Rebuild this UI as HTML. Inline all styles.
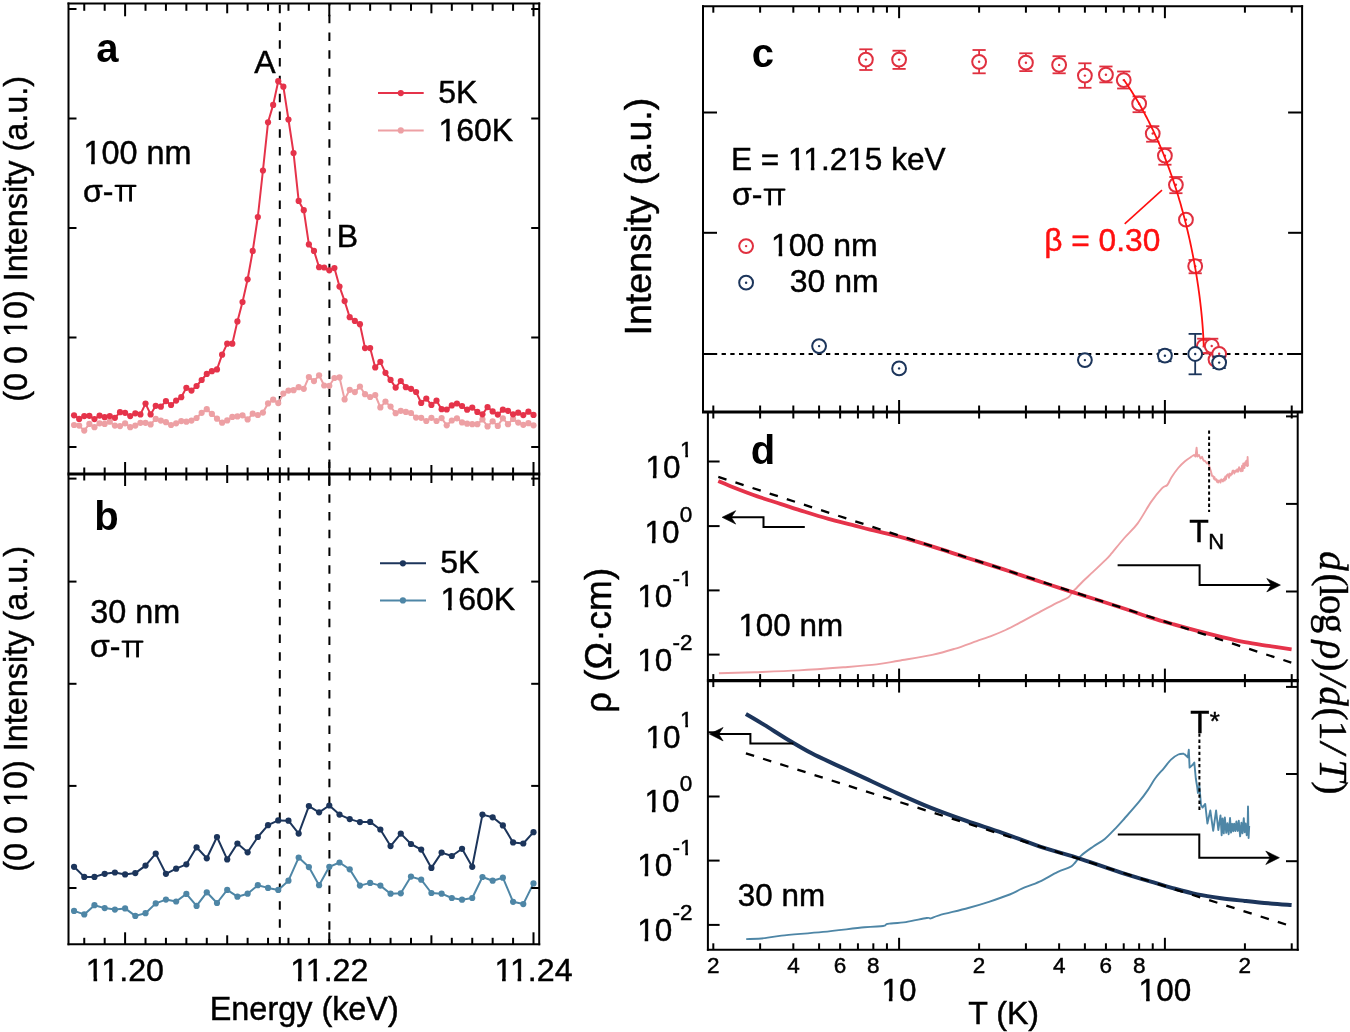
<!DOCTYPE html>
<html><head><meta charset="utf-8"><style>
html,body{margin:0;padding:0;background:#fff;}
svg{display:block;will-change:transform;}
</style></head><body>
<svg width="1350" height="1032" viewBox="0 0 1350 1032">
<rect width="1350" height="1032" fill="#fff"/>
<line x1="279.8" y1="3.5" x2="279.8" y2="474" stroke="#000" stroke-width="2" stroke-dasharray="8.5 9.29" stroke-dashoffset="16.59"/>
<line x1="329.4" y1="3.5" x2="329.4" y2="474" stroke="#000" stroke-width="2" stroke-dasharray="8.5 9.29" stroke-dashoffset="6.5"/>
<line x1="279.8" y1="474" x2="279.8" y2="944.3" stroke="#000" stroke-width="2" stroke-dasharray="8.5 9.29" stroke-dashoffset="17.39"/>
<line x1="329.4" y1="474" x2="329.4" y2="944.3" stroke="#000" stroke-width="2" stroke-dasharray="8.5 9.29" stroke-dashoffset="15.39"/>
<polyline points="74.05,425 79.16,425.6 84.26,430.6 89.36,423.9 94.47,427.2 99.58,423.3 104.68,423.9 109.78,421.7 114.89,425.6 120,426.1 125.1,423.3 130.2,427.2 135.31,425.6 140.42,422.8 145.52,422.8 150.62,424.4 155.73,418.9 160.84,420.6 165.94,422.2 171.05,425 176.15,423.3 181.25,421.1 186.36,421.7 191.47,420.6 196.57,418 201.68,412.8 206.78,409.2 211.88,413.9 216.99,418.7 222.1,422.7 227.2,420.4 232.31,416.9 237.41,416.4 242.51,415.3 247.62,419.4 252.73,413.7 257.83,415 262.94,412.6 268.04,403.4 273.15,399.7 278.25,403.1 283.36,393.6 288.46,390.6 293.56,390.2 298.67,387.2 303.78,388.8 308.88,377 313.99,381.1 319.09,375.3 324.19,385.5 329.3,385.8 334.41,378 339.51,377.4 344.62,399.4 349.72,389.8 354.83,392.1 359.93,386.5 365.04,394.2 370.14,397 375.25,395 380.35,407.4 385.46,401.6 390.56,406.6 395.67,413.2 400.77,410.8 405.88,411.9 410.98,413 416.09,417.6 421.19,417.8 426.3,421 431.4,417.8 436.51,421 441.61,418.1 446.72,425.3 451.82,420.5 456.93,418.3 462.03,422.4 467.14,423.7 472.24,424.2 477.35,424.2 482.45,419.4 487.56,426.4 492.66,421.3 497.77,425.9 502.87,418.3 507.98,424.2 513.08,418.9 518.19,422.6 523.29,424.8 528.39,423.2 533.5,425.3" fill="none" stroke="#EDA0A4" stroke-width="2" stroke-linejoin="round" />
<circle cx="74.05" cy="425" r="3.1" fill="#EDA0A4"/>
<circle cx="79.16" cy="425.6" r="3.1" fill="#EDA0A4"/>
<circle cx="84.26" cy="430.6" r="3.1" fill="#EDA0A4"/>
<circle cx="89.36" cy="423.9" r="3.1" fill="#EDA0A4"/>
<circle cx="94.47" cy="427.2" r="3.1" fill="#EDA0A4"/>
<circle cx="99.58" cy="423.3" r="3.1" fill="#EDA0A4"/>
<circle cx="104.68" cy="423.9" r="3.1" fill="#EDA0A4"/>
<circle cx="109.78" cy="421.7" r="3.1" fill="#EDA0A4"/>
<circle cx="114.89" cy="425.6" r="3.1" fill="#EDA0A4"/>
<circle cx="120" cy="426.1" r="3.1" fill="#EDA0A4"/>
<circle cx="125.1" cy="423.3" r="3.1" fill="#EDA0A4"/>
<circle cx="130.2" cy="427.2" r="3.1" fill="#EDA0A4"/>
<circle cx="135.31" cy="425.6" r="3.1" fill="#EDA0A4"/>
<circle cx="140.42" cy="422.8" r="3.1" fill="#EDA0A4"/>
<circle cx="145.52" cy="422.8" r="3.1" fill="#EDA0A4"/>
<circle cx="150.62" cy="424.4" r="3.1" fill="#EDA0A4"/>
<circle cx="155.73" cy="418.9" r="3.1" fill="#EDA0A4"/>
<circle cx="160.84" cy="420.6" r="3.1" fill="#EDA0A4"/>
<circle cx="165.94" cy="422.2" r="3.1" fill="#EDA0A4"/>
<circle cx="171.05" cy="425" r="3.1" fill="#EDA0A4"/>
<circle cx="176.15" cy="423.3" r="3.1" fill="#EDA0A4"/>
<circle cx="181.25" cy="421.1" r="3.1" fill="#EDA0A4"/>
<circle cx="186.36" cy="421.7" r="3.1" fill="#EDA0A4"/>
<circle cx="191.47" cy="420.6" r="3.1" fill="#EDA0A4"/>
<circle cx="196.57" cy="418" r="3.1" fill="#EDA0A4"/>
<circle cx="201.68" cy="412.8" r="3.1" fill="#EDA0A4"/>
<circle cx="206.78" cy="409.2" r="3.1" fill="#EDA0A4"/>
<circle cx="211.88" cy="413.9" r="3.1" fill="#EDA0A4"/>
<circle cx="216.99" cy="418.7" r="3.1" fill="#EDA0A4"/>
<circle cx="222.1" cy="422.7" r="3.1" fill="#EDA0A4"/>
<circle cx="227.2" cy="420.4" r="3.1" fill="#EDA0A4"/>
<circle cx="232.31" cy="416.9" r="3.1" fill="#EDA0A4"/>
<circle cx="237.41" cy="416.4" r="3.1" fill="#EDA0A4"/>
<circle cx="242.51" cy="415.3" r="3.1" fill="#EDA0A4"/>
<circle cx="247.62" cy="419.4" r="3.1" fill="#EDA0A4"/>
<circle cx="252.73" cy="413.7" r="3.1" fill="#EDA0A4"/>
<circle cx="257.83" cy="415" r="3.1" fill="#EDA0A4"/>
<circle cx="262.94" cy="412.6" r="3.1" fill="#EDA0A4"/>
<circle cx="268.04" cy="403.4" r="3.1" fill="#EDA0A4"/>
<circle cx="273.15" cy="399.7" r="3.1" fill="#EDA0A4"/>
<circle cx="278.25" cy="403.1" r="3.1" fill="#EDA0A4"/>
<circle cx="283.36" cy="393.6" r="3.1" fill="#EDA0A4"/>
<circle cx="288.46" cy="390.6" r="3.1" fill="#EDA0A4"/>
<circle cx="293.56" cy="390.2" r="3.1" fill="#EDA0A4"/>
<circle cx="298.67" cy="387.2" r="3.1" fill="#EDA0A4"/>
<circle cx="303.78" cy="388.8" r="3.1" fill="#EDA0A4"/>
<circle cx="308.88" cy="377" r="3.1" fill="#EDA0A4"/>
<circle cx="313.99" cy="381.1" r="3.1" fill="#EDA0A4"/>
<circle cx="319.09" cy="375.3" r="3.1" fill="#EDA0A4"/>
<circle cx="324.19" cy="385.5" r="3.1" fill="#EDA0A4"/>
<circle cx="329.3" cy="385.8" r="3.1" fill="#EDA0A4"/>
<circle cx="334.41" cy="378" r="3.1" fill="#EDA0A4"/>
<circle cx="339.51" cy="377.4" r="3.1" fill="#EDA0A4"/>
<circle cx="344.62" cy="399.4" r="3.1" fill="#EDA0A4"/>
<circle cx="349.72" cy="389.8" r="3.1" fill="#EDA0A4"/>
<circle cx="354.83" cy="392.1" r="3.1" fill="#EDA0A4"/>
<circle cx="359.93" cy="386.5" r="3.1" fill="#EDA0A4"/>
<circle cx="365.04" cy="394.2" r="3.1" fill="#EDA0A4"/>
<circle cx="370.14" cy="397" r="3.1" fill="#EDA0A4"/>
<circle cx="375.25" cy="395" r="3.1" fill="#EDA0A4"/>
<circle cx="380.35" cy="407.4" r="3.1" fill="#EDA0A4"/>
<circle cx="385.46" cy="401.6" r="3.1" fill="#EDA0A4"/>
<circle cx="390.56" cy="406.6" r="3.1" fill="#EDA0A4"/>
<circle cx="395.67" cy="413.2" r="3.1" fill="#EDA0A4"/>
<circle cx="400.77" cy="410.8" r="3.1" fill="#EDA0A4"/>
<circle cx="405.88" cy="411.9" r="3.1" fill="#EDA0A4"/>
<circle cx="410.98" cy="413" r="3.1" fill="#EDA0A4"/>
<circle cx="416.09" cy="417.6" r="3.1" fill="#EDA0A4"/>
<circle cx="421.19" cy="417.8" r="3.1" fill="#EDA0A4"/>
<circle cx="426.3" cy="421" r="3.1" fill="#EDA0A4"/>
<circle cx="431.4" cy="417.8" r="3.1" fill="#EDA0A4"/>
<circle cx="436.51" cy="421" r="3.1" fill="#EDA0A4"/>
<circle cx="441.61" cy="418.1" r="3.1" fill="#EDA0A4"/>
<circle cx="446.72" cy="425.3" r="3.1" fill="#EDA0A4"/>
<circle cx="451.82" cy="420.5" r="3.1" fill="#EDA0A4"/>
<circle cx="456.93" cy="418.3" r="3.1" fill="#EDA0A4"/>
<circle cx="462.03" cy="422.4" r="3.1" fill="#EDA0A4"/>
<circle cx="467.14" cy="423.7" r="3.1" fill="#EDA0A4"/>
<circle cx="472.24" cy="424.2" r="3.1" fill="#EDA0A4"/>
<circle cx="477.35" cy="424.2" r="3.1" fill="#EDA0A4"/>
<circle cx="482.45" cy="419.4" r="3.1" fill="#EDA0A4"/>
<circle cx="487.56" cy="426.4" r="3.1" fill="#EDA0A4"/>
<circle cx="492.66" cy="421.3" r="3.1" fill="#EDA0A4"/>
<circle cx="497.77" cy="425.9" r="3.1" fill="#EDA0A4"/>
<circle cx="502.87" cy="418.3" r="3.1" fill="#EDA0A4"/>
<circle cx="507.98" cy="424.2" r="3.1" fill="#EDA0A4"/>
<circle cx="513.08" cy="418.9" r="3.1" fill="#EDA0A4"/>
<circle cx="518.19" cy="422.6" r="3.1" fill="#EDA0A4"/>
<circle cx="523.29" cy="424.8" r="3.1" fill="#EDA0A4"/>
<circle cx="528.39" cy="423.2" r="3.1" fill="#EDA0A4"/>
<circle cx="533.5" cy="425.3" r="3.1" fill="#EDA0A4"/>
<polyline points="74.05,415.3 79.16,418.9 84.26,416.1 89.36,415.8 94.47,419.1 99.58,415.6 104.68,417.2 109.78,416.1 114.89,417.8 120,412.2 125.1,412.8 130.2,416.1 135.31,413.3 140.42,414.4 145.52,403.6 150.62,414.4 155.73,405.8 160.84,406.7 165.94,401.1 171.05,405 176.15,400.6 181.25,397.2 186.36,387.8 191.47,390.6 196.57,386 201.68,380 206.78,373.9 211.88,371.2 216.99,369.4 222.1,354.7 227.2,343.7 232.31,343.7 237.41,321.4 242.51,302 247.62,279.3 252.73,250.9 257.83,217 262.94,170.5 268.04,122.3 273.15,104.9 278.25,81.2 283.36,86.7 288.46,119.5 293.56,153 298.67,200.9 303.78,210.2 308.88,244.4 313.99,250.9 319.09,267.2 324.19,267.5 329.3,270.3 334.41,268.1 339.51,286.6 344.62,301.1 349.72,317.2 354.83,320.9 359.93,324.2 365.04,348.1 370.14,348.1 375.25,367.4 380.35,361.8 385.46,372.8 390.56,379.9 395.67,387.6 400.77,381 405.88,387.2 410.98,388.8 416.09,392 421.19,402.9 426.3,398.6 431.4,404.9 436.51,400.7 441.61,409.2 446.72,409.5 451.82,405.4 456.93,403.5 462.03,406 467.14,409.7 472.24,407.6 477.35,411.9 482.45,414.3 487.56,407.1 492.66,411.4 497.77,414.6 502.87,409.7 507.98,410.8 513.08,414.3 518.19,412.7 523.29,415.1 528.39,411.7 533.5,414.9" fill="none" stroke="#E5334A" stroke-width="2" stroke-linejoin="round" />
<circle cx="74.05" cy="415.3" r="3.1" fill="#E5334A"/>
<circle cx="79.16" cy="418.9" r="3.1" fill="#E5334A"/>
<circle cx="84.26" cy="416.1" r="3.1" fill="#E5334A"/>
<circle cx="89.36" cy="415.8" r="3.1" fill="#E5334A"/>
<circle cx="94.47" cy="419.1" r="3.1" fill="#E5334A"/>
<circle cx="99.58" cy="415.6" r="3.1" fill="#E5334A"/>
<circle cx="104.68" cy="417.2" r="3.1" fill="#E5334A"/>
<circle cx="109.78" cy="416.1" r="3.1" fill="#E5334A"/>
<circle cx="114.89" cy="417.8" r="3.1" fill="#E5334A"/>
<circle cx="120" cy="412.2" r="3.1" fill="#E5334A"/>
<circle cx="125.1" cy="412.8" r="3.1" fill="#E5334A"/>
<circle cx="130.2" cy="416.1" r="3.1" fill="#E5334A"/>
<circle cx="135.31" cy="413.3" r="3.1" fill="#E5334A"/>
<circle cx="140.42" cy="414.4" r="3.1" fill="#E5334A"/>
<circle cx="145.52" cy="403.6" r="3.1" fill="#E5334A"/>
<circle cx="150.62" cy="414.4" r="3.1" fill="#E5334A"/>
<circle cx="155.73" cy="405.8" r="3.1" fill="#E5334A"/>
<circle cx="160.84" cy="406.7" r="3.1" fill="#E5334A"/>
<circle cx="165.94" cy="401.1" r="3.1" fill="#E5334A"/>
<circle cx="171.05" cy="405" r="3.1" fill="#E5334A"/>
<circle cx="176.15" cy="400.6" r="3.1" fill="#E5334A"/>
<circle cx="181.25" cy="397.2" r="3.1" fill="#E5334A"/>
<circle cx="186.36" cy="387.8" r="3.1" fill="#E5334A"/>
<circle cx="191.47" cy="390.6" r="3.1" fill="#E5334A"/>
<circle cx="196.57" cy="386" r="3.1" fill="#E5334A"/>
<circle cx="201.68" cy="380" r="3.1" fill="#E5334A"/>
<circle cx="206.78" cy="373.9" r="3.1" fill="#E5334A"/>
<circle cx="211.88" cy="371.2" r="3.1" fill="#E5334A"/>
<circle cx="216.99" cy="369.4" r="3.1" fill="#E5334A"/>
<circle cx="222.1" cy="354.7" r="3.1" fill="#E5334A"/>
<circle cx="227.2" cy="343.7" r="3.1" fill="#E5334A"/>
<circle cx="232.31" cy="343.7" r="3.1" fill="#E5334A"/>
<circle cx="237.41" cy="321.4" r="3.1" fill="#E5334A"/>
<circle cx="242.51" cy="302" r="3.1" fill="#E5334A"/>
<circle cx="247.62" cy="279.3" r="3.1" fill="#E5334A"/>
<circle cx="252.73" cy="250.9" r="3.1" fill="#E5334A"/>
<circle cx="257.83" cy="217" r="3.1" fill="#E5334A"/>
<circle cx="262.94" cy="170.5" r="3.1" fill="#E5334A"/>
<circle cx="268.04" cy="122.3" r="3.1" fill="#E5334A"/>
<circle cx="273.15" cy="104.9" r="3.1" fill="#E5334A"/>
<circle cx="278.25" cy="81.2" r="3.1" fill="#E5334A"/>
<circle cx="283.36" cy="86.7" r="3.1" fill="#E5334A"/>
<circle cx="288.46" cy="119.5" r="3.1" fill="#E5334A"/>
<circle cx="293.56" cy="153" r="3.1" fill="#E5334A"/>
<circle cx="298.67" cy="200.9" r="3.1" fill="#E5334A"/>
<circle cx="303.78" cy="210.2" r="3.1" fill="#E5334A"/>
<circle cx="308.88" cy="244.4" r="3.1" fill="#E5334A"/>
<circle cx="313.99" cy="250.9" r="3.1" fill="#E5334A"/>
<circle cx="319.09" cy="267.2" r="3.1" fill="#E5334A"/>
<circle cx="324.19" cy="267.5" r="3.1" fill="#E5334A"/>
<circle cx="329.3" cy="270.3" r="3.1" fill="#E5334A"/>
<circle cx="334.41" cy="268.1" r="3.1" fill="#E5334A"/>
<circle cx="339.51" cy="286.6" r="3.1" fill="#E5334A"/>
<circle cx="344.62" cy="301.1" r="3.1" fill="#E5334A"/>
<circle cx="349.72" cy="317.2" r="3.1" fill="#E5334A"/>
<circle cx="354.83" cy="320.9" r="3.1" fill="#E5334A"/>
<circle cx="359.93" cy="324.2" r="3.1" fill="#E5334A"/>
<circle cx="365.04" cy="348.1" r="3.1" fill="#E5334A"/>
<circle cx="370.14" cy="348.1" r="3.1" fill="#E5334A"/>
<circle cx="375.25" cy="367.4" r="3.1" fill="#E5334A"/>
<circle cx="380.35" cy="361.8" r="3.1" fill="#E5334A"/>
<circle cx="385.46" cy="372.8" r="3.1" fill="#E5334A"/>
<circle cx="390.56" cy="379.9" r="3.1" fill="#E5334A"/>
<circle cx="395.67" cy="387.6" r="3.1" fill="#E5334A"/>
<circle cx="400.77" cy="381" r="3.1" fill="#E5334A"/>
<circle cx="405.88" cy="387.2" r="3.1" fill="#E5334A"/>
<circle cx="410.98" cy="388.8" r="3.1" fill="#E5334A"/>
<circle cx="416.09" cy="392" r="3.1" fill="#E5334A"/>
<circle cx="421.19" cy="402.9" r="3.1" fill="#E5334A"/>
<circle cx="426.3" cy="398.6" r="3.1" fill="#E5334A"/>
<circle cx="431.4" cy="404.9" r="3.1" fill="#E5334A"/>
<circle cx="436.51" cy="400.7" r="3.1" fill="#E5334A"/>
<circle cx="441.61" cy="409.2" r="3.1" fill="#E5334A"/>
<circle cx="446.72" cy="409.5" r="3.1" fill="#E5334A"/>
<circle cx="451.82" cy="405.4" r="3.1" fill="#E5334A"/>
<circle cx="456.93" cy="403.5" r="3.1" fill="#E5334A"/>
<circle cx="462.03" cy="406" r="3.1" fill="#E5334A"/>
<circle cx="467.14" cy="409.7" r="3.1" fill="#E5334A"/>
<circle cx="472.24" cy="407.6" r="3.1" fill="#E5334A"/>
<circle cx="477.35" cy="411.9" r="3.1" fill="#E5334A"/>
<circle cx="482.45" cy="414.3" r="3.1" fill="#E5334A"/>
<circle cx="487.56" cy="407.1" r="3.1" fill="#E5334A"/>
<circle cx="492.66" cy="411.4" r="3.1" fill="#E5334A"/>
<circle cx="497.77" cy="414.6" r="3.1" fill="#E5334A"/>
<circle cx="502.87" cy="409.7" r="3.1" fill="#E5334A"/>
<circle cx="507.98" cy="410.8" r="3.1" fill="#E5334A"/>
<circle cx="513.08" cy="414.3" r="3.1" fill="#E5334A"/>
<circle cx="518.19" cy="412.7" r="3.1" fill="#E5334A"/>
<circle cx="523.29" cy="415.1" r="3.1" fill="#E5334A"/>
<circle cx="528.39" cy="411.7" r="3.1" fill="#E5334A"/>
<circle cx="533.5" cy="414.9" r="3.1" fill="#E5334A"/>
<polyline points="74.05,910.9 84.26,914.4 94.47,905.2 104.68,908.1 114.89,909.6 125.1,908.4 135.31,915.9 145.52,913.2 155.73,903.4 165.94,899.6 176.15,901.5 186.36,893.9 196.57,905.9 206.78,892.3 216.99,903 227.2,889.9 237.41,896.7 247.62,893.7 257.83,885.2 268.04,887.9 278.25,889.9 288.46,880.7 298.67,857.6 308.88,867.1 319.09,885.2 329.3,866.8 339.51,862.5 349.72,869.3 359.93,885.6 370.14,882.9 380.35,885.6 390.56,893.7 400.77,893.3 410.98,876.6 421.19,879.7 431.4,893 441.61,893.7 451.82,898 462.03,899.7 472.24,898 482.45,877 492.66,880.7 502.87,877.7 513.08,901.8 523.29,904.1 533.5,883.4" fill="none" stroke="#4E86A6" stroke-width="2" stroke-linejoin="round" />
<circle cx="74.05" cy="910.9" r="3.1" fill="#4E86A6"/>
<circle cx="84.26" cy="914.4" r="3.1" fill="#4E86A6"/>
<circle cx="94.47" cy="905.2" r="3.1" fill="#4E86A6"/>
<circle cx="104.68" cy="908.1" r="3.1" fill="#4E86A6"/>
<circle cx="114.89" cy="909.6" r="3.1" fill="#4E86A6"/>
<circle cx="125.1" cy="908.4" r="3.1" fill="#4E86A6"/>
<circle cx="135.31" cy="915.9" r="3.1" fill="#4E86A6"/>
<circle cx="145.52" cy="913.2" r="3.1" fill="#4E86A6"/>
<circle cx="155.73" cy="903.4" r="3.1" fill="#4E86A6"/>
<circle cx="165.94" cy="899.6" r="3.1" fill="#4E86A6"/>
<circle cx="176.15" cy="901.5" r="3.1" fill="#4E86A6"/>
<circle cx="186.36" cy="893.9" r="3.1" fill="#4E86A6"/>
<circle cx="196.57" cy="905.9" r="3.1" fill="#4E86A6"/>
<circle cx="206.78" cy="892.3" r="3.1" fill="#4E86A6"/>
<circle cx="216.99" cy="903" r="3.1" fill="#4E86A6"/>
<circle cx="227.2" cy="889.9" r="3.1" fill="#4E86A6"/>
<circle cx="237.41" cy="896.7" r="3.1" fill="#4E86A6"/>
<circle cx="247.62" cy="893.7" r="3.1" fill="#4E86A6"/>
<circle cx="257.83" cy="885.2" r="3.1" fill="#4E86A6"/>
<circle cx="268.04" cy="887.9" r="3.1" fill="#4E86A6"/>
<circle cx="278.25" cy="889.9" r="3.1" fill="#4E86A6"/>
<circle cx="288.46" cy="880.7" r="3.1" fill="#4E86A6"/>
<circle cx="298.67" cy="857.6" r="3.1" fill="#4E86A6"/>
<circle cx="308.88" cy="867.1" r="3.1" fill="#4E86A6"/>
<circle cx="319.09" cy="885.2" r="3.1" fill="#4E86A6"/>
<circle cx="329.3" cy="866.8" r="3.1" fill="#4E86A6"/>
<circle cx="339.51" cy="862.5" r="3.1" fill="#4E86A6"/>
<circle cx="349.72" cy="869.3" r="3.1" fill="#4E86A6"/>
<circle cx="359.93" cy="885.6" r="3.1" fill="#4E86A6"/>
<circle cx="370.14" cy="882.9" r="3.1" fill="#4E86A6"/>
<circle cx="380.35" cy="885.6" r="3.1" fill="#4E86A6"/>
<circle cx="390.56" cy="893.7" r="3.1" fill="#4E86A6"/>
<circle cx="400.77" cy="893.3" r="3.1" fill="#4E86A6"/>
<circle cx="410.98" cy="876.6" r="3.1" fill="#4E86A6"/>
<circle cx="421.19" cy="879.7" r="3.1" fill="#4E86A6"/>
<circle cx="431.4" cy="893" r="3.1" fill="#4E86A6"/>
<circle cx="441.61" cy="893.7" r="3.1" fill="#4E86A6"/>
<circle cx="451.82" cy="898" r="3.1" fill="#4E86A6"/>
<circle cx="462.03" cy="899.7" r="3.1" fill="#4E86A6"/>
<circle cx="472.24" cy="898" r="3.1" fill="#4E86A6"/>
<circle cx="482.45" cy="877" r="3.1" fill="#4E86A6"/>
<circle cx="492.66" cy="880.7" r="3.1" fill="#4E86A6"/>
<circle cx="502.87" cy="877.7" r="3.1" fill="#4E86A6"/>
<circle cx="513.08" cy="901.8" r="3.1" fill="#4E86A6"/>
<circle cx="523.29" cy="904.1" r="3.1" fill="#4E86A6"/>
<circle cx="533.5" cy="883.4" r="3.1" fill="#4E86A6"/>
<polyline points="74.05,866.8 84.26,876.9 94.47,876.9 104.68,873.8 114.89,872.5 125.1,874.4 135.31,873.1 145.52,865.6 155.73,853.6 165.94,873.8 176.15,868.7 186.36,864.3 196.57,847.3 206.78,858.3 216.99,837 227.2,859.4 237.41,843.5 247.62,852.3 257.83,837 268.04,825.2 278.25,820.4 288.46,820.7 298.67,833.6 308.88,806.1 319.09,812.3 329.3,805.5 339.51,814.6 349.72,819.1 359.93,822.1 370.14,821.9 380.35,829.5 390.56,846.1 400.77,833.6 410.98,844 421.19,849.6 431.4,867.9 441.61,852.6 451.82,856 462.03,848.8 472.24,866.8 482.45,814.6 492.66,817.3 502.87,825.4 513.08,842.4 523.29,843.5 533.5,832.2" fill="none" stroke="#1C355B" stroke-width="2" stroke-linejoin="round" />
<circle cx="74.05" cy="866.8" r="3.1" fill="#1C355B"/>
<circle cx="84.26" cy="876.9" r="3.1" fill="#1C355B"/>
<circle cx="94.47" cy="876.9" r="3.1" fill="#1C355B"/>
<circle cx="104.68" cy="873.8" r="3.1" fill="#1C355B"/>
<circle cx="114.89" cy="872.5" r="3.1" fill="#1C355B"/>
<circle cx="125.1" cy="874.4" r="3.1" fill="#1C355B"/>
<circle cx="135.31" cy="873.1" r="3.1" fill="#1C355B"/>
<circle cx="145.52" cy="865.6" r="3.1" fill="#1C355B"/>
<circle cx="155.73" cy="853.6" r="3.1" fill="#1C355B"/>
<circle cx="165.94" cy="873.8" r="3.1" fill="#1C355B"/>
<circle cx="176.15" cy="868.7" r="3.1" fill="#1C355B"/>
<circle cx="186.36" cy="864.3" r="3.1" fill="#1C355B"/>
<circle cx="196.57" cy="847.3" r="3.1" fill="#1C355B"/>
<circle cx="206.78" cy="858.3" r="3.1" fill="#1C355B"/>
<circle cx="216.99" cy="837" r="3.1" fill="#1C355B"/>
<circle cx="227.2" cy="859.4" r="3.1" fill="#1C355B"/>
<circle cx="237.41" cy="843.5" r="3.1" fill="#1C355B"/>
<circle cx="247.62" cy="852.3" r="3.1" fill="#1C355B"/>
<circle cx="257.83" cy="837" r="3.1" fill="#1C355B"/>
<circle cx="268.04" cy="825.2" r="3.1" fill="#1C355B"/>
<circle cx="278.25" cy="820.4" r="3.1" fill="#1C355B"/>
<circle cx="288.46" cy="820.7" r="3.1" fill="#1C355B"/>
<circle cx="298.67" cy="833.6" r="3.1" fill="#1C355B"/>
<circle cx="308.88" cy="806.1" r="3.1" fill="#1C355B"/>
<circle cx="319.09" cy="812.3" r="3.1" fill="#1C355B"/>
<circle cx="329.3" cy="805.5" r="3.1" fill="#1C355B"/>
<circle cx="339.51" cy="814.6" r="3.1" fill="#1C355B"/>
<circle cx="349.72" cy="819.1" r="3.1" fill="#1C355B"/>
<circle cx="359.93" cy="822.1" r="3.1" fill="#1C355B"/>
<circle cx="370.14" cy="821.9" r="3.1" fill="#1C355B"/>
<circle cx="380.35" cy="829.5" r="3.1" fill="#1C355B"/>
<circle cx="390.56" cy="846.1" r="3.1" fill="#1C355B"/>
<circle cx="400.77" cy="833.6" r="3.1" fill="#1C355B"/>
<circle cx="410.98" cy="844" r="3.1" fill="#1C355B"/>
<circle cx="421.19" cy="849.6" r="3.1" fill="#1C355B"/>
<circle cx="431.4" cy="867.9" r="3.1" fill="#1C355B"/>
<circle cx="441.61" cy="852.6" r="3.1" fill="#1C355B"/>
<circle cx="451.82" cy="856" r="3.1" fill="#1C355B"/>
<circle cx="462.03" cy="848.8" r="3.1" fill="#1C355B"/>
<circle cx="472.24" cy="866.8" r="3.1" fill="#1C355B"/>
<circle cx="482.45" cy="814.6" r="3.1" fill="#1C355B"/>
<circle cx="492.66" cy="817.3" r="3.1" fill="#1C355B"/>
<circle cx="502.87" cy="825.4" r="3.1" fill="#1C355B"/>
<circle cx="513.08" cy="842.4" r="3.1" fill="#1C355B"/>
<circle cx="523.29" cy="843.5" r="3.1" fill="#1C355B"/>
<circle cx="533.5" cy="832.2" r="3.1" fill="#1C355B"/>
<line x1="68.5" y1="2.5" x2="68.5" y2="945.3" stroke="#000" stroke-width="2" />
<line x1="539.2" y1="2.5" x2="539.2" y2="945.3" stroke="#000" stroke-width="2" />
<line x1="67.5" y1="3.5" x2="540.2" y2="3.5" stroke="#000" stroke-width="2" />
<line x1="67.5" y1="474" x2="540.2" y2="474" stroke="#000" stroke-width="3" />
<line x1="67.5" y1="944.3" x2="540.2" y2="944.3" stroke="#000" stroke-width="2" />
<line x1="84.26" y1="3.5" x2="84.26" y2="10.8" stroke="#000" stroke-width="2" />
<line x1="84.26" y1="467.5" x2="84.26" y2="480.5" stroke="#000" stroke-width="2" />
<line x1="84.26" y1="937.8" x2="84.26" y2="944.3" stroke="#000" stroke-width="2" />
<line x1="104.68" y1="3.5" x2="104.68" y2="10.8" stroke="#000" stroke-width="2" />
<line x1="104.68" y1="467.5" x2="104.68" y2="480.5" stroke="#000" stroke-width="2" />
<line x1="104.68" y1="937.8" x2="104.68" y2="944.3" stroke="#000" stroke-width="2" />
<line x1="125.1" y1="3.5" x2="125.1" y2="16.3" stroke="#000" stroke-width="2" />
<line x1="125.1" y1="462" x2="125.1" y2="486" stroke="#000" stroke-width="2" />
<line x1="125.1" y1="932.3" x2="125.1" y2="944.3" stroke="#000" stroke-width="2" />
<line x1="145.52" y1="3.5" x2="145.52" y2="10.8" stroke="#000" stroke-width="2" />
<line x1="145.52" y1="467.5" x2="145.52" y2="480.5" stroke="#000" stroke-width="2" />
<line x1="145.52" y1="937.8" x2="145.52" y2="944.3" stroke="#000" stroke-width="2" />
<line x1="165.94" y1="3.5" x2="165.94" y2="10.8" stroke="#000" stroke-width="2" />
<line x1="165.94" y1="467.5" x2="165.94" y2="480.5" stroke="#000" stroke-width="2" />
<line x1="165.94" y1="937.8" x2="165.94" y2="944.3" stroke="#000" stroke-width="2" />
<line x1="186.36" y1="3.5" x2="186.36" y2="10.8" stroke="#000" stroke-width="2" />
<line x1="186.36" y1="467.5" x2="186.36" y2="480.5" stroke="#000" stroke-width="2" />
<line x1="186.36" y1="937.8" x2="186.36" y2="944.3" stroke="#000" stroke-width="2" />
<line x1="206.78" y1="3.5" x2="206.78" y2="10.8" stroke="#000" stroke-width="2" />
<line x1="206.78" y1="467.5" x2="206.78" y2="480.5" stroke="#000" stroke-width="2" />
<line x1="206.78" y1="937.8" x2="206.78" y2="944.3" stroke="#000" stroke-width="2" />
<line x1="227.2" y1="3.5" x2="227.2" y2="13.3" stroke="#000" stroke-width="2" />
<line x1="227.2" y1="465" x2="227.2" y2="483" stroke="#000" stroke-width="2" />
<line x1="227.2" y1="935.3" x2="227.2" y2="944.3" stroke="#000" stroke-width="2" />
<line x1="247.62" y1="3.5" x2="247.62" y2="10.8" stroke="#000" stroke-width="2" />
<line x1="247.62" y1="467.5" x2="247.62" y2="480.5" stroke="#000" stroke-width="2" />
<line x1="247.62" y1="937.8" x2="247.62" y2="944.3" stroke="#000" stroke-width="2" />
<line x1="268.04" y1="3.5" x2="268.04" y2="10.8" stroke="#000" stroke-width="2" />
<line x1="268.04" y1="467.5" x2="268.04" y2="480.5" stroke="#000" stroke-width="2" />
<line x1="268.04" y1="937.8" x2="268.04" y2="944.3" stroke="#000" stroke-width="2" />
<line x1="288.46" y1="3.5" x2="288.46" y2="10.8" stroke="#000" stroke-width="2" />
<line x1="288.46" y1="467.5" x2="288.46" y2="480.5" stroke="#000" stroke-width="2" />
<line x1="288.46" y1="937.8" x2="288.46" y2="944.3" stroke="#000" stroke-width="2" />
<line x1="308.88" y1="3.5" x2="308.88" y2="10.8" stroke="#000" stroke-width="2" />
<line x1="308.88" y1="467.5" x2="308.88" y2="480.5" stroke="#000" stroke-width="2" />
<line x1="308.88" y1="937.8" x2="308.88" y2="944.3" stroke="#000" stroke-width="2" />
<line x1="329.3" y1="3.5" x2="329.3" y2="16.3" stroke="#000" stroke-width="2" />
<line x1="329.3" y1="462" x2="329.3" y2="486" stroke="#000" stroke-width="2" />
<line x1="329.3" y1="932.3" x2="329.3" y2="944.3" stroke="#000" stroke-width="2" />
<line x1="349.72" y1="3.5" x2="349.72" y2="10.8" stroke="#000" stroke-width="2" />
<line x1="349.72" y1="467.5" x2="349.72" y2="480.5" stroke="#000" stroke-width="2" />
<line x1="349.72" y1="937.8" x2="349.72" y2="944.3" stroke="#000" stroke-width="2" />
<line x1="370.14" y1="3.5" x2="370.14" y2="10.8" stroke="#000" stroke-width="2" />
<line x1="370.14" y1="467.5" x2="370.14" y2="480.5" stroke="#000" stroke-width="2" />
<line x1="370.14" y1="937.8" x2="370.14" y2="944.3" stroke="#000" stroke-width="2" />
<line x1="390.56" y1="3.5" x2="390.56" y2="10.8" stroke="#000" stroke-width="2" />
<line x1="390.56" y1="467.5" x2="390.56" y2="480.5" stroke="#000" stroke-width="2" />
<line x1="390.56" y1="937.8" x2="390.56" y2="944.3" stroke="#000" stroke-width="2" />
<line x1="410.98" y1="3.5" x2="410.98" y2="10.8" stroke="#000" stroke-width="2" />
<line x1="410.98" y1="467.5" x2="410.98" y2="480.5" stroke="#000" stroke-width="2" />
<line x1="410.98" y1="937.8" x2="410.98" y2="944.3" stroke="#000" stroke-width="2" />
<line x1="431.4" y1="3.5" x2="431.4" y2="13.3" stroke="#000" stroke-width="2" />
<line x1="431.4" y1="465" x2="431.4" y2="483" stroke="#000" stroke-width="2" />
<line x1="431.4" y1="935.3" x2="431.4" y2="944.3" stroke="#000" stroke-width="2" />
<line x1="451.82" y1="3.5" x2="451.82" y2="10.8" stroke="#000" stroke-width="2" />
<line x1="451.82" y1="467.5" x2="451.82" y2="480.5" stroke="#000" stroke-width="2" />
<line x1="451.82" y1="937.8" x2="451.82" y2="944.3" stroke="#000" stroke-width="2" />
<line x1="472.24" y1="3.5" x2="472.24" y2="10.8" stroke="#000" stroke-width="2" />
<line x1="472.24" y1="467.5" x2="472.24" y2="480.5" stroke="#000" stroke-width="2" />
<line x1="472.24" y1="937.8" x2="472.24" y2="944.3" stroke="#000" stroke-width="2" />
<line x1="492.66" y1="3.5" x2="492.66" y2="10.8" stroke="#000" stroke-width="2" />
<line x1="492.66" y1="467.5" x2="492.66" y2="480.5" stroke="#000" stroke-width="2" />
<line x1="492.66" y1="937.8" x2="492.66" y2="944.3" stroke="#000" stroke-width="2" />
<line x1="513.08" y1="3.5" x2="513.08" y2="10.8" stroke="#000" stroke-width="2" />
<line x1="513.08" y1="467.5" x2="513.08" y2="480.5" stroke="#000" stroke-width="2" />
<line x1="513.08" y1="937.8" x2="513.08" y2="944.3" stroke="#000" stroke-width="2" />
<line x1="533.5" y1="3.5" x2="533.5" y2="16.3" stroke="#000" stroke-width="2" />
<line x1="533.5" y1="462" x2="533.5" y2="486" stroke="#000" stroke-width="2" />
<line x1="533.5" y1="932.3" x2="533.5" y2="944.3" stroke="#000" stroke-width="2" />
<line x1="68.5" y1="9" x2="76.5" y2="9" stroke="#000" stroke-width="2" />
<line x1="531.2" y1="9" x2="539.2" y2="9" stroke="#000" stroke-width="2" />
<line x1="68.5" y1="118.5" x2="76.5" y2="118.5" stroke="#000" stroke-width="2" />
<line x1="531.2" y1="118.5" x2="539.2" y2="118.5" stroke="#000" stroke-width="2" />
<line x1="68.5" y1="228" x2="76.5" y2="228" stroke="#000" stroke-width="2" />
<line x1="531.2" y1="228" x2="539.2" y2="228" stroke="#000" stroke-width="2" />
<line x1="68.5" y1="337.5" x2="76.5" y2="337.5" stroke="#000" stroke-width="2" />
<line x1="531.2" y1="337.5" x2="539.2" y2="337.5" stroke="#000" stroke-width="2" />
<line x1="68.5" y1="447" x2="76.5" y2="447" stroke="#000" stroke-width="2" />
<line x1="531.2" y1="447" x2="539.2" y2="447" stroke="#000" stroke-width="2" />
<line x1="68.5" y1="478.6" x2="76.5" y2="478.6" stroke="#000" stroke-width="2" />
<line x1="531.2" y1="478.6" x2="539.2" y2="478.6" stroke="#000" stroke-width="2" />
<line x1="68.5" y1="581.6" x2="76.5" y2="581.6" stroke="#000" stroke-width="2" />
<line x1="531.2" y1="581.6" x2="539.2" y2="581.6" stroke="#000" stroke-width="2" />
<line x1="68.5" y1="683.8" x2="76.5" y2="683.8" stroke="#000" stroke-width="2" />
<line x1="531.2" y1="683.8" x2="539.2" y2="683.8" stroke="#000" stroke-width="2" />
<line x1="68.5" y1="785.9" x2="76.5" y2="785.9" stroke="#000" stroke-width="2" />
<line x1="531.2" y1="785.9" x2="539.2" y2="785.9" stroke="#000" stroke-width="2" />
<line x1="68.5" y1="888" x2="76.5" y2="888" stroke="#000" stroke-width="2" />
<line x1="531.2" y1="888" x2="539.2" y2="888" stroke="#000" stroke-width="2" />
<line x1="378" y1="93.1" x2="423.7" y2="93.1" stroke="#E5334A" stroke-width="2" />
<circle cx="400.8" cy="93.1" r="3.1" fill="#E5334A"/>
<line x1="378" y1="130.4" x2="423.7" y2="130.4" stroke="#EDA0A4" stroke-width="2" />
<circle cx="400.8" cy="130.4" r="3.1" fill="#EDA0A4"/>
<text class="ls" x="438.25" y="103.1" font-family='"Liberation Sans", sans-serif' font-size="32" fill="#000" stroke="#000" stroke-width="0.45" >5K</text>
<text class="ls" x="438.4" y="140.5" font-family='"Liberation Sans", sans-serif' font-size="32" fill="#000" stroke="#000" stroke-width="0.45" >160K</text>
<line x1="380" y1="563.3" x2="426" y2="563.3" stroke="#1C355B" stroke-width="2" />
<circle cx="402.9" cy="563.3" r="3.1" fill="#1C355B"/>
<line x1="380" y1="600.4" x2="426" y2="600.4" stroke="#4E86A6" stroke-width="2" />
<circle cx="402.9" cy="600.4" r="3.1" fill="#4E86A6"/>
<text class="ls" x="440.25" y="573.1" font-family='"Liberation Sans", sans-serif' font-size="32" fill="#000" stroke="#000" stroke-width="0.45" >5K</text>
<text class="ls" x="440.4" y="610.2" font-family='"Liberation Sans", sans-serif' font-size="32" fill="#000" stroke="#000" stroke-width="0.45" >160K</text>
<text x="96.35" y="61.6" font-family='"Liberation Sans", sans-serif' font-size="40" font-weight="bold" fill="#000" stroke="#000" stroke-width="0" >a</text>
<text class="ls" x="254.3" y="73.3" font-family='"Liberation Sans", sans-serif' font-size="32" fill="#000" stroke="#000" stroke-width="0.45" >A</text>
<text class="ls" x="336.8" y="246.7" font-family='"Liberation Sans", sans-serif' font-size="32" fill="#000" stroke="#000" stroke-width="0.45" >B</text>
<text class="ls" x="83.4" y="164.1" font-family='"Liberation Sans", sans-serif' font-size="32.4" fill="#000" stroke="#000" stroke-width="0.45" >100 nm</text>
<text class="ls" x="82.95" y="201.5" font-family='"Liberation Sans", sans-serif' font-size="32" fill="#000" stroke="#000" stroke-width="0.45" >σ-</text>
<line x1="115.6" y1="185.9" x2="135.4" y2="185.9" stroke="#000" stroke-width="2.3" stroke-linecap="round"/>
<line x1="120.65" y1="185.9" x2="120.65" y2="201.6" stroke="#000" stroke-width="2.8"/>
<line x1="130.55" y1="185.9" x2="130.55" y2="201.6" stroke="#000" stroke-width="2.8"/>
<text x="94.15" y="530.3" font-family='"Liberation Sans", sans-serif' font-size="40" font-weight="bold" fill="#000" stroke="#000" stroke-width="0" >b</text>
<text class="ls" x="90.15" y="622.8" font-family='"Liberation Sans", sans-serif' font-size="32.4" fill="#000" stroke="#000" stroke-width="0.45" >30 nm</text>
<text class="ls" x="89.95" y="657.3" font-family='"Liberation Sans", sans-serif' font-size="32" fill="#000" stroke="#000" stroke-width="0.45" >σ-</text>
<line x1="122.6" y1="641.7" x2="142.4" y2="641.7" stroke="#000" stroke-width="2.3" stroke-linecap="round"/>
<line x1="127.65" y1="641.7" x2="127.65" y2="657.4" stroke="#000" stroke-width="2.8"/>
<line x1="137.55" y1="641.7" x2="137.55" y2="657.4" stroke="#000" stroke-width="2.8"/>
<text class="ls" x="85.83" y="981.3" font-family='"Liberation Sans", sans-serif' font-size="32.2" fill="#000" stroke="#000" stroke-width="0.45">11.20</text>
<text class="ls" x="290.27" y="981.3" font-family='"Liberation Sans", sans-serif' font-size="32.2" fill="#000" stroke="#000" stroke-width="0.45">11.22</text>
<text class="ls" x="494.4" y="981.3" font-family='"Liberation Sans", sans-serif' font-size="32.2" fill="#000" stroke="#000" stroke-width="0.45">11.24</text>
<text class="ls" x="209.75" y="1019.9" font-family='"Liberation Sans", sans-serif' font-size="32.4" fill="#000" stroke="#000" stroke-width="0.45" >Energy (keV)</text>
<text class="ls" x="0" y="0" transform="translate(26.8,401.8) rotate(-90)" font-family='"Liberation Sans", sans-serif' font-size="32.4" fill="#000" stroke="#000" stroke-width="0.45">(0 0 10) Intensity (a.u.)</text>
<text class="ls" x="0" y="0" transform="translate(26.8,871.8) rotate(-90)" font-family='"Liberation Sans", sans-serif' font-size="32.4" fill="#000" stroke="#000" stroke-width="0.45">(0 0 10) Intensity (a.u.)</text>
<line x1="703" y1="354" x2="1302.1" y2="354" stroke="#000" stroke-width="1.8" stroke-dasharray="4.3 4.4" stroke-dashoffset="-18.6"/>
<line x1="1162" y1="190.1" x2="1124.7" y2="223.9" stroke="#FF1010" stroke-width="1.6" />
<line x1="865.89" y1="49.3" x2="865.89" y2="70" stroke="#E0303F" stroke-width="1.8" />
<line x1="859.29" y1="49.3" x2="872.49" y2="49.3" stroke="#E0303F" stroke-width="1.8" />
<line x1="859.29" y1="70" x2="872.49" y2="70" stroke="#E0303F" stroke-width="1.8" />
<circle cx="865.89" cy="59.6" r="6.9" fill="#fff" stroke="#E0303F" stroke-width="2"/>
<circle cx="865.89" cy="59.6" r="1.2" fill="#E0303F"/>
<line x1="899.1" y1="50.7" x2="899.1" y2="68.9" stroke="#E0303F" stroke-width="1.8" />
<line x1="892.5" y1="50.7" x2="905.7" y2="50.7" stroke="#E0303F" stroke-width="1.8" />
<line x1="892.5" y1="68.9" x2="905.7" y2="68.9" stroke="#E0303F" stroke-width="1.8" />
<circle cx="899.1" cy="59.6" r="6.9" fill="#fff" stroke="#E0303F" stroke-width="2"/>
<circle cx="899.1" cy="59.6" r="1.2" fill="#E0303F"/>
<line x1="979.11" y1="50" x2="979.11" y2="73.3" stroke="#E0303F" stroke-width="1.8" />
<line x1="972.51" y1="50" x2="985.71" y2="50" stroke="#E0303F" stroke-width="1.8" />
<line x1="972.51" y1="73.3" x2="985.71" y2="73.3" stroke="#E0303F" stroke-width="1.8" />
<circle cx="979.11" cy="61.8" r="6.9" fill="#fff" stroke="#E0303F" stroke-width="2"/>
<circle cx="979.11" cy="61.8" r="1.2" fill="#E0303F"/>
<line x1="1025.92" y1="53.3" x2="1025.92" y2="71.1" stroke="#E0303F" stroke-width="1.8" />
<line x1="1019.32" y1="53.3" x2="1032.52" y2="53.3" stroke="#E0303F" stroke-width="1.8" />
<line x1="1019.32" y1="71.1" x2="1032.52" y2="71.1" stroke="#E0303F" stroke-width="1.8" />
<circle cx="1025.92" cy="62.7" r="6.9" fill="#fff" stroke="#E0303F" stroke-width="2"/>
<circle cx="1025.92" cy="62.7" r="1.2" fill="#E0303F"/>
<line x1="1059.13" y1="56.2" x2="1059.13" y2="73.3" stroke="#E0303F" stroke-width="1.8" />
<line x1="1052.53" y1="56.2" x2="1065.73" y2="56.2" stroke="#E0303F" stroke-width="1.8" />
<line x1="1052.53" y1="73.3" x2="1065.73" y2="73.3" stroke="#E0303F" stroke-width="1.8" />
<circle cx="1059.13" cy="64.9" r="6.9" fill="#fff" stroke="#E0303F" stroke-width="2"/>
<circle cx="1059.13" cy="64.9" r="1.2" fill="#E0303F"/>
<line x1="1084.89" y1="63.3" x2="1084.89" y2="87.8" stroke="#E0303F" stroke-width="1.8" />
<line x1="1078.29" y1="63.3" x2="1091.49" y2="63.3" stroke="#E0303F" stroke-width="1.8" />
<line x1="1078.29" y1="87.8" x2="1091.49" y2="87.8" stroke="#E0303F" stroke-width="1.8" />
<circle cx="1084.89" cy="75.6" r="6.9" fill="#fff" stroke="#E0303F" stroke-width="2"/>
<circle cx="1084.89" cy="75.6" r="1.2" fill="#E0303F"/>
<line x1="1105.93" y1="66.5" x2="1105.93" y2="82.4" stroke="#E0303F" stroke-width="1.8" />
<line x1="1099.33" y1="66.5" x2="1112.53" y2="66.5" stroke="#E0303F" stroke-width="1.8" />
<line x1="1099.33" y1="82.4" x2="1112.53" y2="82.4" stroke="#E0303F" stroke-width="1.8" />
<circle cx="1105.93" cy="74.7" r="6.9" fill="#fff" stroke="#E0303F" stroke-width="2"/>
<circle cx="1105.93" cy="74.7" r="1.2" fill="#E0303F"/>
<line x1="1123.73" y1="71.5" x2="1123.73" y2="88.5" stroke="#E0303F" stroke-width="1.8" />
<line x1="1117.13" y1="71.5" x2="1130.33" y2="71.5" stroke="#E0303F" stroke-width="1.8" />
<line x1="1117.13" y1="88.5" x2="1130.33" y2="88.5" stroke="#E0303F" stroke-width="1.8" />
<circle cx="1123.73" cy="80.1" r="6.9" fill="#fff" stroke="#E0303F" stroke-width="2"/>
<circle cx="1123.73" cy="80.1" r="1.2" fill="#E0303F"/>
<line x1="1139.14" y1="96.4" x2="1139.14" y2="112.2" stroke="#E0303F" stroke-width="1.8" />
<line x1="1132.54" y1="96.4" x2="1145.74" y2="96.4" stroke="#E0303F" stroke-width="1.8" />
<line x1="1132.54" y1="112.2" x2="1145.74" y2="112.2" stroke="#E0303F" stroke-width="1.8" />
<circle cx="1139.14" cy="103.7" r="6.9" fill="#fff" stroke="#E0303F" stroke-width="2"/>
<circle cx="1139.14" cy="103.7" r="1.2" fill="#E0303F"/>
<line x1="1152.74" y1="126.2" x2="1152.74" y2="141.7" stroke="#E0303F" stroke-width="1.8" />
<line x1="1146.14" y1="126.2" x2="1159.34" y2="126.2" stroke="#E0303F" stroke-width="1.8" />
<line x1="1146.14" y1="141.7" x2="1159.34" y2="141.7" stroke="#E0303F" stroke-width="1.8" />
<circle cx="1152.74" cy="133.5" r="6.9" fill="#fff" stroke="#E0303F" stroke-width="2"/>
<circle cx="1152.74" cy="133.5" r="1.2" fill="#E0303F"/>
<line x1="1164.9" y1="148.2" x2="1164.9" y2="164.7" stroke="#E0303F" stroke-width="1.8" />
<line x1="1158.3" y1="148.2" x2="1171.5" y2="148.2" stroke="#E0303F" stroke-width="1.8" />
<line x1="1158.3" y1="164.7" x2="1171.5" y2="164.7" stroke="#E0303F" stroke-width="1.8" />
<circle cx="1164.9" cy="155.7" r="6.9" fill="#fff" stroke="#E0303F" stroke-width="2"/>
<circle cx="1164.9" cy="155.7" r="1.2" fill="#E0303F"/>
<line x1="1175.9" y1="177" x2="1175.9" y2="193.2" stroke="#E0303F" stroke-width="1.8" />
<line x1="1169.3" y1="177" x2="1182.5" y2="177" stroke="#E0303F" stroke-width="1.8" />
<line x1="1169.3" y1="193.2" x2="1182.5" y2="193.2" stroke="#E0303F" stroke-width="1.8" />
<circle cx="1175.9" cy="184.8" r="6.9" fill="#fff" stroke="#E0303F" stroke-width="2"/>
<circle cx="1175.9" cy="184.8" r="1.2" fill="#E0303F"/>
<circle cx="1185.95" cy="219.7" r="6.9" fill="#fff" stroke="#E0303F" stroke-width="2"/>
<circle cx="1185.95" cy="219.7" r="1.2" fill="#E0303F"/>
<line x1="1195.19" y1="260" x2="1195.19" y2="273.3" stroke="#E0303F" stroke-width="1.8" />
<line x1="1188.59" y1="260" x2="1201.79" y2="260" stroke="#E0303F" stroke-width="1.8" />
<line x1="1188.59" y1="273.3" x2="1201.79" y2="273.3" stroke="#E0303F" stroke-width="1.8" />
<circle cx="1195.19" cy="266.2" r="6.9" fill="#fff" stroke="#E0303F" stroke-width="2"/>
<circle cx="1195.19" cy="266.2" r="1.2" fill="#E0303F"/>
<line x1="1203.74" y1="338.7" x2="1203.74" y2="346.4" stroke="#E0303F" stroke-width="1.8" />
<line x1="1197.14" y1="338.7" x2="1210.34" y2="338.7" stroke="#E0303F" stroke-width="1.8" />
<line x1="1197.14" y1="346.4" x2="1210.34" y2="346.4" stroke="#E0303F" stroke-width="1.8" />
<circle cx="1203.74" cy="346.4" r="6.9" fill="#fff" stroke="#E0303F" stroke-width="2"/>
<circle cx="1203.74" cy="346.4" r="1.2" fill="#E0303F"/>
<circle cx="1215.49" cy="359.6" r="6.9" fill="#fff" stroke="#E0303F" stroke-width="2"/>
<circle cx="1215.49" cy="359.6" r="1.2" fill="#E0303F"/>
<line x1="1211.71" y1="338.7" x2="1211.71" y2="353.5" stroke="#E0303F" stroke-width="1.8" />
<line x1="1205.11" y1="338.7" x2="1218.31" y2="338.7" stroke="#E0303F" stroke-width="1.8" />
<line x1="1205.11" y1="353.5" x2="1218.31" y2="353.5" stroke="#E0303F" stroke-width="1.8" />
<circle cx="1211.71" cy="346" r="6.9" fill="#fff" stroke="#E0303F" stroke-width="2"/>
<circle cx="1211.71" cy="346" r="1.2" fill="#E0303F"/>
<circle cx="1219.16" cy="353.8" r="6.9" fill="#fff" stroke="#E0303F" stroke-width="2"/>
<circle cx="1219.16" cy="353.8" r="1.2" fill="#E0303F"/>
<polyline points="1123.73,79.64 1124.55,80.81 1125.36,81.99 1126.17,83.17 1126.98,84.35 1127.78,85.54 1128.57,86.73 1129.36,87.93 1130.14,89.13 1130.92,90.33 1131.69,91.54 1132.46,92.74 1133.22,93.96 1133.98,95.18 1134.73,96.4 1135.48,97.62 1136.22,98.85 1136.96,100.08 1137.69,101.32 1138.42,102.56 1139.14,103.8 1139.86,105.05 1140.58,106.31 1141.29,107.56 1141.99,108.83 1142.69,110.09 1143.39,111.36 1144.08,112.64 1144.77,113.92 1145.46,115.2 1146.14,116.49 1146.82,117.78 1147.49,119.08 1148.16,120.38 1148.82,121.69 1149.49,123 1150.14,124.32 1150.8,125.64 1151.45,126.97 1152.09,128.3 1152.74,129.64 1153.38,130.98 1154.01,132.33 1154.65,133.69 1155.27,135.05 1155.9,136.41 1156.52,137.78 1157.14,139.16 1157.76,140.54 1158.37,141.93 1158.98,143.33 1159.58,144.73 1160.19,146.14 1160.79,147.55 1161.38,148.97 1161.98,150.4 1162.57,151.83 1163.16,153.27 1163.74,154.72 1164.32,156.18 1164.9,157.64 1165.48,159.11 1166.05,160.58 1166.62,162.07 1167.19,163.56 1167.75,165.06 1168.31,166.57 1168.87,168.08 1169.43,169.61 1169.98,171.14 1170.53,172.68 1171.08,174.23 1171.63,175.79 1172.17,177.36 1172.71,178.93 1173.25,180.52 1173.78,182.12 1174.32,183.72 1174.85,185.34 1175.38,186.97 1175.9,188.6 1176.43,190.25 1176.95,191.91 1177.47,193.58 1177.98,195.27 1178.5,196.96 1179.01,198.67 1179.52,200.39 1180.03,202.12 1180.53,203.86 1181.03,205.62 1181.53,207.4 1182.03,209.19 1182.53,210.99 1183.02,212.81 1183.52,214.64 1184.01,216.49 1184.49,218.36 1184.98,220.24 1185.46,222.14 1185.95,224.06 1186.43,226 1186.9,227.96 1187.38,229.94 1187.85,231.94 1188.33,233.97 1188.8,236.01 1189.27,238.08 1189.73,240.18 1190.2,242.3 1190.66,244.45 1191.12,246.62 1191.58,248.83 1192.04,251.07 1192.49,253.34 1192.94,255.64 1193.4,257.99 1193.85,260.37 1194.29,262.79 1194.74,265.25 1195.19,267.77 1195.63,270.33 1196.07,272.94 1196.51,275.61 1196.95,278.35 1197.38,281.15 1197.82,284.03 1198.25,286.99 1198.68,290.03 1199.11,293.18 1199.54,296.44 1199.97,299.83 1200.39,303.36 1200.82,307.07 1201.24,310.99 1201.66,315.15 1202.08,319.65 1202.5,324.57 1202.91,330.12 1203.33,336.72 1203.74,345.85" fill="none" stroke="#FF1010" stroke-width="1.8" stroke-linejoin="round" />
<circle cx="819.09" cy="346.1" r="6.9" fill="#fff" stroke="#1C355B" stroke-width="2"/>
<circle cx="819.09" cy="346.1" r="1.2" fill="#1C355B"/>
<circle cx="899.1" cy="368.4" r="6.9" fill="#fff" stroke="#1C355B" stroke-width="2"/>
<circle cx="899.1" cy="368.4" r="1.2" fill="#1C355B"/>
<circle cx="1084.89" cy="360.1" r="6.9" fill="#fff" stroke="#1C355B" stroke-width="2"/>
<circle cx="1084.89" cy="360.1" r="1.2" fill="#1C355B"/>
<line x1="1164.9" y1="350.3" x2="1164.9" y2="361.2" stroke="#1C355B" stroke-width="1.8" />
<line x1="1158.3" y1="350.3" x2="1171.5" y2="350.3" stroke="#1C355B" stroke-width="1.8" />
<line x1="1158.3" y1="361.2" x2="1171.5" y2="361.2" stroke="#1C355B" stroke-width="1.8" />
<circle cx="1164.9" cy="355.7" r="6.9" fill="#fff" stroke="#1C355B" stroke-width="2"/>
<circle cx="1164.9" cy="355.7" r="1.2" fill="#1C355B"/>
<line x1="1195.19" y1="333.9" x2="1195.19" y2="374.3" stroke="#1C355B" stroke-width="1.8" />
<line x1="1188.59" y1="333.9" x2="1201.79" y2="333.9" stroke="#1C355B" stroke-width="1.8" />
<line x1="1188.59" y1="374.3" x2="1201.79" y2="374.3" stroke="#1C355B" stroke-width="1.8" />
<circle cx="1195.19" cy="354" r="6.9" fill="#fff" stroke="#1C355B" stroke-width="2"/>
<circle cx="1195.19" cy="354" r="1.2" fill="#1C355B"/>
<line x1="1219.16" y1="356.5" x2="1219.16" y2="368.1" stroke="#1C355B" stroke-width="1.8" />
<line x1="1212.56" y1="356.5" x2="1225.76" y2="356.5" stroke="#1C355B" stroke-width="1.8" />
<line x1="1212.56" y1="368.1" x2="1225.76" y2="368.1" stroke="#1C355B" stroke-width="1.8" />
<circle cx="1219.16" cy="362.6" r="6.9" fill="#fff" stroke="#1C355B" stroke-width="2"/>
<circle cx="1219.16" cy="362.6" r="1.2" fill="#1C355B"/>
<circle cx="746.1" cy="246.1" r="6.9" fill="#fff" stroke="#E0303F" stroke-width="2"/>
<circle cx="746.1" cy="246.1" r="1.2" fill="#E0303F"/>
<circle cx="746.1" cy="282.7" r="6.9" fill="#fff" stroke="#1C355B" stroke-width="2"/>
<circle cx="746.1" cy="282.7" r="1.2" fill="#1C355B"/>
<line x1="703" y1="5.2" x2="703" y2="413" stroke="#000" stroke-width="2" />
<line x1="1302.1" y1="5.2" x2="1302.1" y2="413" stroke="#000" stroke-width="2" />
<line x1="702" y1="6.2" x2="1303.1" y2="6.2" stroke="#000" stroke-width="2" />
<line x1="713.31" y1="6.2" x2="713.31" y2="12.7" stroke="#000" stroke-width="2" />
<line x1="713.31" y1="405.5" x2="713.31" y2="418.5" stroke="#000" stroke-width="2" />
<line x1="713.31" y1="674.1" x2="713.31" y2="687.1" stroke="#000" stroke-width="2" />
<line x1="713.31" y1="943.3" x2="713.31" y2="949.8" stroke="#000" stroke-width="2" />
<line x1="760.12" y1="6.2" x2="760.12" y2="12.7" stroke="#000" stroke-width="2" />
<line x1="760.12" y1="405.5" x2="760.12" y2="418.5" stroke="#000" stroke-width="2" />
<line x1="760.12" y1="674.1" x2="760.12" y2="687.1" stroke="#000" stroke-width="2" />
<line x1="760.12" y1="943.3" x2="760.12" y2="949.8" stroke="#000" stroke-width="2" />
<line x1="793.33" y1="6.2" x2="793.33" y2="12.7" stroke="#000" stroke-width="2" />
<line x1="793.33" y1="405.5" x2="793.33" y2="418.5" stroke="#000" stroke-width="2" />
<line x1="793.33" y1="674.1" x2="793.33" y2="687.1" stroke="#000" stroke-width="2" />
<line x1="793.33" y1="943.3" x2="793.33" y2="949.8" stroke="#000" stroke-width="2" />
<line x1="819.09" y1="6.2" x2="819.09" y2="12.7" stroke="#000" stroke-width="2" />
<line x1="819.09" y1="405.5" x2="819.09" y2="418.5" stroke="#000" stroke-width="2" />
<line x1="819.09" y1="674.1" x2="819.09" y2="687.1" stroke="#000" stroke-width="2" />
<line x1="819.09" y1="943.3" x2="819.09" y2="949.8" stroke="#000" stroke-width="2" />
<line x1="840.13" y1="6.2" x2="840.13" y2="12.7" stroke="#000" stroke-width="2" />
<line x1="840.13" y1="405.5" x2="840.13" y2="418.5" stroke="#000" stroke-width="2" />
<line x1="840.13" y1="674.1" x2="840.13" y2="687.1" stroke="#000" stroke-width="2" />
<line x1="840.13" y1="943.3" x2="840.13" y2="949.8" stroke="#000" stroke-width="2" />
<line x1="857.93" y1="6.2" x2="857.93" y2="12.7" stroke="#000" stroke-width="2" />
<line x1="857.93" y1="405.5" x2="857.93" y2="418.5" stroke="#000" stroke-width="2" />
<line x1="857.93" y1="674.1" x2="857.93" y2="687.1" stroke="#000" stroke-width="2" />
<line x1="857.93" y1="943.3" x2="857.93" y2="949.8" stroke="#000" stroke-width="2" />
<line x1="873.34" y1="6.2" x2="873.34" y2="12.7" stroke="#000" stroke-width="2" />
<line x1="873.34" y1="405.5" x2="873.34" y2="418.5" stroke="#000" stroke-width="2" />
<line x1="873.34" y1="674.1" x2="873.34" y2="687.1" stroke="#000" stroke-width="2" />
<line x1="873.34" y1="943.3" x2="873.34" y2="949.8" stroke="#000" stroke-width="2" />
<line x1="886.94" y1="6.2" x2="886.94" y2="12.7" stroke="#000" stroke-width="2" />
<line x1="886.94" y1="405.5" x2="886.94" y2="418.5" stroke="#000" stroke-width="2" />
<line x1="886.94" y1="674.1" x2="886.94" y2="687.1" stroke="#000" stroke-width="2" />
<line x1="886.94" y1="943.3" x2="886.94" y2="949.8" stroke="#000" stroke-width="2" />
<line x1="899.1" y1="6.2" x2="899.1" y2="18.2" stroke="#000" stroke-width="2" />
<line x1="899.1" y1="400" x2="899.1" y2="424" stroke="#000" stroke-width="2" />
<line x1="899.1" y1="668.6" x2="899.1" y2="692.6" stroke="#000" stroke-width="2" />
<line x1="899.1" y1="937.8" x2="899.1" y2="949.8" stroke="#000" stroke-width="2" />
<line x1="979.11" y1="6.2" x2="979.11" y2="12.7" stroke="#000" stroke-width="2" />
<line x1="979.11" y1="405.5" x2="979.11" y2="418.5" stroke="#000" stroke-width="2" />
<line x1="979.11" y1="674.1" x2="979.11" y2="687.1" stroke="#000" stroke-width="2" />
<line x1="979.11" y1="943.3" x2="979.11" y2="949.8" stroke="#000" stroke-width="2" />
<line x1="1025.92" y1="6.2" x2="1025.92" y2="12.7" stroke="#000" stroke-width="2" />
<line x1="1025.92" y1="405.5" x2="1025.92" y2="418.5" stroke="#000" stroke-width="2" />
<line x1="1025.92" y1="674.1" x2="1025.92" y2="687.1" stroke="#000" stroke-width="2" />
<line x1="1025.92" y1="943.3" x2="1025.92" y2="949.8" stroke="#000" stroke-width="2" />
<line x1="1059.13" y1="6.2" x2="1059.13" y2="12.7" stroke="#000" stroke-width="2" />
<line x1="1059.13" y1="405.5" x2="1059.13" y2="418.5" stroke="#000" stroke-width="2" />
<line x1="1059.13" y1="674.1" x2="1059.13" y2="687.1" stroke="#000" stroke-width="2" />
<line x1="1059.13" y1="943.3" x2="1059.13" y2="949.8" stroke="#000" stroke-width="2" />
<line x1="1084.89" y1="6.2" x2="1084.89" y2="12.7" stroke="#000" stroke-width="2" />
<line x1="1084.89" y1="405.5" x2="1084.89" y2="418.5" stroke="#000" stroke-width="2" />
<line x1="1084.89" y1="674.1" x2="1084.89" y2="687.1" stroke="#000" stroke-width="2" />
<line x1="1084.89" y1="943.3" x2="1084.89" y2="949.8" stroke="#000" stroke-width="2" />
<line x1="1105.93" y1="6.2" x2="1105.93" y2="12.7" stroke="#000" stroke-width="2" />
<line x1="1105.93" y1="405.5" x2="1105.93" y2="418.5" stroke="#000" stroke-width="2" />
<line x1="1105.93" y1="674.1" x2="1105.93" y2="687.1" stroke="#000" stroke-width="2" />
<line x1="1105.93" y1="943.3" x2="1105.93" y2="949.8" stroke="#000" stroke-width="2" />
<line x1="1123.73" y1="6.2" x2="1123.73" y2="12.7" stroke="#000" stroke-width="2" />
<line x1="1123.73" y1="405.5" x2="1123.73" y2="418.5" stroke="#000" stroke-width="2" />
<line x1="1123.73" y1="674.1" x2="1123.73" y2="687.1" stroke="#000" stroke-width="2" />
<line x1="1123.73" y1="943.3" x2="1123.73" y2="949.8" stroke="#000" stroke-width="2" />
<line x1="1139.14" y1="6.2" x2="1139.14" y2="12.7" stroke="#000" stroke-width="2" />
<line x1="1139.14" y1="405.5" x2="1139.14" y2="418.5" stroke="#000" stroke-width="2" />
<line x1="1139.14" y1="674.1" x2="1139.14" y2="687.1" stroke="#000" stroke-width="2" />
<line x1="1139.14" y1="943.3" x2="1139.14" y2="949.8" stroke="#000" stroke-width="2" />
<line x1="1152.74" y1="6.2" x2="1152.74" y2="12.7" stroke="#000" stroke-width="2" />
<line x1="1152.74" y1="405.5" x2="1152.74" y2="418.5" stroke="#000" stroke-width="2" />
<line x1="1152.74" y1="674.1" x2="1152.74" y2="687.1" stroke="#000" stroke-width="2" />
<line x1="1152.74" y1="943.3" x2="1152.74" y2="949.8" stroke="#000" stroke-width="2" />
<line x1="1164.9" y1="6.2" x2="1164.9" y2="18.2" stroke="#000" stroke-width="2" />
<line x1="1164.9" y1="400" x2="1164.9" y2="424" stroke="#000" stroke-width="2" />
<line x1="1164.9" y1="668.6" x2="1164.9" y2="692.6" stroke="#000" stroke-width="2" />
<line x1="1164.9" y1="937.8" x2="1164.9" y2="949.8" stroke="#000" stroke-width="2" />
<line x1="1244.91" y1="6.2" x2="1244.91" y2="12.7" stroke="#000" stroke-width="2" />
<line x1="1244.91" y1="405.5" x2="1244.91" y2="418.5" stroke="#000" stroke-width="2" />
<line x1="1244.91" y1="674.1" x2="1244.91" y2="687.1" stroke="#000" stroke-width="2" />
<line x1="1244.91" y1="943.3" x2="1244.91" y2="949.8" stroke="#000" stroke-width="2" />
<line x1="1291.72" y1="6.2" x2="1291.72" y2="12.7" stroke="#000" stroke-width="2" />
<line x1="1291.72" y1="405.5" x2="1291.72" y2="418.5" stroke="#000" stroke-width="2" />
<line x1="1291.72" y1="674.1" x2="1291.72" y2="687.1" stroke="#000" stroke-width="2" />
<line x1="1291.72" y1="943.3" x2="1291.72" y2="949.8" stroke="#000" stroke-width="2" />
<line x1="703" y1="112.5" x2="717" y2="112.5" stroke="#000" stroke-width="2" />
<line x1="1288.1" y1="112.5" x2="1302.1" y2="112.5" stroke="#000" stroke-width="2" />
<line x1="703" y1="232.8" x2="717" y2="232.8" stroke="#000" stroke-width="2" />
<line x1="1288.1" y1="232.8" x2="1302.1" y2="232.8" stroke="#000" stroke-width="2" />
<line x1="703" y1="354" x2="717" y2="354" stroke="#000" stroke-width="2" />
<line x1="1288.1" y1="354" x2="1302.1" y2="354" stroke="#000" stroke-width="2" />
<text x="751.8" y="67" font-family='"Liberation Sans", sans-serif' font-size="40" font-weight="bold" fill="#000" stroke="#000" stroke-width="0" >c</text>
<text class="ls" x="731" y="169.7" font-family='"Liberation Sans", sans-serif' font-size="31.6" fill="#000" stroke="#000" stroke-width="0.45" >E = 11.215 keV</text>
<text class="ls" x="731.95" y="205.3" font-family='"Liberation Sans", sans-serif' font-size="32" fill="#000" stroke="#000" stroke-width="0.45" >σ-</text>
<line x1="764.6" y1="189.7" x2="784.4" y2="189.7" stroke="#000" stroke-width="2.3" stroke-linecap="round"/>
<line x1="769.65" y1="189.7" x2="769.65" y2="205.4" stroke="#000" stroke-width="2.8"/>
<line x1="779.55" y1="189.7" x2="779.55" y2="205.4" stroke="#000" stroke-width="2.8"/>
<text class="ls" x="771" y="256" font-family='"Liberation Sans", sans-serif' font-size="32" fill="#000" stroke="#000" stroke-width="0.45" >100 nm</text>
<text class="ls" x="789.65" y="292" font-family='"Liberation Sans", sans-serif' font-size="32" fill="#000" stroke="#000" stroke-width="0.45" >30 nm</text>
<text class="ls" x="1044.25" y="251" font-family='"Liberation Sans", sans-serif' font-size="31.7" fill="#FF1010" stroke="#FF1010" stroke-width="0.45" >β = 0.30</text>
<text class="ls" x="0" y="0" transform="translate(650.8,335.38) rotate(-90)" font-family='"Liberation Sans", sans-serif' font-size="37.5" fill="#000" stroke="#000" stroke-width="0.45">Intensity (a.u.)</text>
<path d="M718.9,673.3 C724.82,673.12 741.07,672.68 754.4,672.2 C767.73,671.72 784.08,671.22 798.9,670.4 C813.72,669.58 830.33,668.3 843.3,667.3 C856.27,666.3 867.43,665.5 876.7,664.4 C885.97,663.3 889.65,662.28 898.9,660.7 C908.15,659.12 922.95,656.87 932.2,654.9 C941.45,652.93 946.98,651.2 954.4,648.9 C961.82,646.6 970.4,643.32 976.7,641.1 C983,638.88 987.38,637.45 992.2,635.6 C997.02,633.75 1000.65,632.33 1005.6,630 C1010.55,627.67 1016.23,624.58 1021.9,621.6 C1027.57,618.62 1033.68,615.25 1039.6,612.1 C1045.52,608.95 1052.58,605.18 1057.4,602.7 C1062.22,600.22 1065.98,598.98 1068.5,597.2 C1071.02,595.42 1071.08,593.62 1072.5,592 C1073.92,590.38 1075.17,589.38 1077,587.5 C1078.83,585.62 1080.83,583.3 1083.5,580.7 C1086.17,578.1 1089.45,575.25 1093,571.9 C1096.55,568.55 1101.9,563.45 1104.8,560.6 C1107.7,557.75 1107.22,558.48 1110.4,554.8 C1113.58,551.12 1119.38,543.7 1123.9,538.5 C1128.42,533.3 1132.97,529.7 1137.5,523.6 C1142.03,517.5 1147.03,507.78 1151.1,501.9 C1155.17,496.02 1159.2,491.12 1161.9,488.3 C1164.6,485.48 1165.72,486.8 1167.3,485 C1168.88,483.2 1169.58,480.33 1171.4,477.5 C1173.22,474.67 1175.93,470.72 1178.2,468 C1180.47,465.28 1182.7,463.15 1185,461.2 C1187.3,459.25 1190.83,457.12 1192,456.3" fill="none" stroke="#EDA0A4" stroke-width="1.9" stroke-linejoin="round" />
<polyline points="1192,456.3 1194,455 1195.5,456.5 1196.6,447.6 1197.4,456.5 1199,455 1200.5,458.5 1202,456.8 1203.5,460.5 1205.3,461.2 1207,463.5 1208.2,462 1209.4,466.6 1210.8,471 1212.1,476.1 1212.7,476.09 1213.3,476.09 1213.9,478.78 1214.5,477.16 1215.1,479.7 1215.7,479.71 1216.3,479.17 1216.9,481.66 1217.5,480.47 1218.1,482.57 1218.7,480.73 1219.3,480.43 1219.9,481.37 1220.5,482.6 1221.1,479.4 1221.7,479.41 1222.3,480.64 1222.9,481.53 1223.5,479.67 1224.1,478.56 1224.7,480.49 1225.3,476.38 1225.9,479.25 1226.5,476.16 1227.1,474.9 1227.7,474.36 1228.3,475.12 1228.9,477.78 1229.5,473.58 1230.1,475.6 1230.7,475.55 1231.3,473.57 1231.9,474.23 1232.5,470.94 1233.1,470.53 1233.7,471.02 1234.3,473.48 1234.9,471.58 1235.5,470.51 1236.1,471.76 1236.7,470.58 1237.3,469.27 1237.9,471.85 1238.5,471.37 1239.1,467.16 1239.7,469.55 1240.3,468.75 1240.9,471.3 1241.5,469.69 1242.1,465.6 1242.7,471.02 1243.3,463.4 1243.9,465.53 1244.5,467.99 1245.1,462.52 1245.7,464.97 1246.3,460.8 1246.9,465.7 1247.5,466.12 1247.6,457 1248,466" fill="none" stroke="#EDA0A4" stroke-width="1.9" stroke-linejoin="round" />
<path d="M718.3,481 C720.87,482.08 727.18,484.93 733.7,487.5 C740.22,490.07 749.5,493.63 757.4,496.4 C765.3,499.17 773.2,501.53 781.1,504.1 C789,506.67 796.9,509.33 804.8,511.8 C812.7,514.27 820.6,516.72 828.5,518.9 C836.4,521.08 845.28,523.12 852.2,524.9 C859.12,526.68 862.77,527.8 870,529.6 C877.23,531.4 885.42,532.95 895.6,535.7 C905.78,538.45 919.25,542.43 931.1,546.1 C942.95,549.77 954.85,553.9 966.7,557.7 C978.55,561.5 990.82,565.2 1002.2,568.9 C1013.58,572.6 1023.82,576.2 1035,579.9 C1046.18,583.6 1058.47,587.62 1069.3,591.1 C1080.13,594.58 1090.13,597.65 1100,600.8 C1109.87,603.95 1120.17,607.23 1128.5,610 C1136.83,612.77 1142.47,615 1150,617.4 C1157.53,619.8 1165.8,622.15 1173.7,624.4 C1181.6,626.65 1189.5,628.83 1197.4,630.9 C1205.3,632.97 1213.2,634.93 1221.1,636.8 C1229,638.67 1236.9,640.58 1244.8,642.1 C1252.7,643.62 1260.7,644.7 1268.5,645.9 C1276.3,647.1 1287.75,648.73 1291.6,649.3" fill="none" stroke="#E5334A" stroke-width="3.8" stroke-linejoin="round" />
<line x1="718.3" y1="476.9" x2="1291.3" y2="662.6" stroke="#000" stroke-width="2.3" stroke-dasharray="8.6 9.4"/>
<path d="M746.2,939.1 C749.32,938.93 759.02,938.68 764.9,938.1 C770.78,937.52 771.82,936.63 781.5,935.6 C791.18,934.57 809.17,933.28 823,931.9 C836.83,930.52 854.48,928.28 864.5,927.3 C874.52,926.32 879.43,926.52 883.1,926 C886.77,925.48 885.47,924.6 886.5,924.2 C887.53,923.8 886.07,923.95 889.3,923.6 C892.53,923.25 899.67,923.03 905.9,922.1 C912.13,921.17 922.55,918.62 926.7,918 C930.85,917.38 928.73,918.85 930.8,918.4 C932.87,917.95 932.87,917.03 939.1,915.3 C945.33,913.57 959.9,910.25 968.2,908 C976.5,905.75 981.98,904.05 988.9,901.8 C995.82,899.55 1004.2,896.68 1009.7,894.5 C1015.2,892.32 1016.92,890.85 1021.9,888.7 C1026.88,886.55 1033.68,884.37 1039.6,881.6 C1045.52,878.83 1052.45,874.47 1057.4,872.1 C1062.35,869.73 1066.53,868.77 1069.3,867.4 C1072.07,866.03 1072.03,865.87 1074,863.9 C1075.97,861.93 1077.93,858.47 1081.1,855.6 C1084.27,852.73 1089.05,849.47 1093,846.7 C1096.95,843.93 1100.85,842.27 1104.8,839 C1108.75,835.73 1113.42,830.52 1116.7,827.1 C1119.98,823.68 1120.77,822.73 1124.5,818.5 C1128.23,814.27 1135.22,806.43 1139.1,801.7 C1142.98,796.97 1145.13,793.97 1147.8,790.1 C1150.47,786.23 1152.43,782.13 1155.1,778.5 C1157.77,774.87 1161.15,771.45 1163.8,768.3 C1166.45,765.15 1168.58,761.9 1171,759.6 C1173.42,757.3 1176.12,755.47 1178.3,754.5 C1180.48,753.53 1183.13,753.92 1184.1,753.8" fill="none" stroke="#4E86A6" stroke-width="1.9" stroke-linejoin="round" />
<polyline points="1184.1,753.8 1187.8,757.4 1188.8,749.8 1189.6,767.6 1192.5,765 1194.3,762.5 1195.8,778.5 1197.2,787 1197.9,793 1199.4,785.8 1201,805 1202.5,807.6 1205.2,803.9 1207.4,823.5 1210.3,810.5 1213.2,830.8 1216.1,810.5 1218.3,830 1220.5,815.5 1221.64,835.26 1222.63,818.34 1223.79,833.36 1224.86,817.51 1226.23,832.82 1227.43,823.17 1228.65,834.22 1230.04,818.05 1231.02,832.58 1232.22,823.82 1233.29,831.24 1234.16,823.72 1235.42,831.14 1236.37,821.57 1237.7,830.98 1238.77,820.66 1240.1,836.34 1241.41,822.76 1242.46,833.31 1243.79,818.2 1244.68,832.21 1245.62,823.42 1246.71,835.26 1247.67,825.19 1248,806.5 1248.6,838 1249.2,826" fill="none" stroke="#4E86A6" stroke-width="1.9" stroke-linejoin="round" />
<path d="M745.9,714 C748.97,715.82 757.28,720.62 764.3,724.9 C771.32,729.18 780.1,734.97 788,739.7 C795.9,744.43 803.8,749.15 811.7,753.3 C819.6,757.45 827.35,760.83 835.4,764.6 C843.45,768.37 849.97,771.25 860,775.9 C870.03,780.55 883.75,787.17 895.6,792.5 C907.45,797.83 919.25,803.15 931.1,807.9 C942.95,812.65 954.85,816.85 966.7,821 C978.55,825.15 989.98,828.53 1002.2,832.8 C1014.42,837.07 1026.85,842.22 1040,846.6 C1053.15,850.98 1066.93,854.55 1081.1,859.1 C1095.27,863.65 1113.52,870.2 1125,873.9 C1136.48,877.6 1141.88,878.88 1150,881.3 C1158.12,883.72 1165.8,886.22 1173.7,888.4 C1181.6,890.58 1189.5,892.77 1197.4,894.4 C1205.3,896.03 1213.2,897.12 1221.1,898.2 C1229,899.28 1236.9,900.05 1244.8,900.9 C1252.7,901.75 1260.7,902.62 1268.5,903.3 C1276.3,903.98 1287.75,904.72 1291.6,905" fill="none" stroke="#1C355B" stroke-width="4" stroke-linejoin="round" />
<line x1="745.9" y1="753.3" x2="1291.6" y2="926.3" stroke="#000" stroke-width="2.3" stroke-dasharray="8.6 9.4"/>
<line x1="1209.1" y1="430.4" x2="1209.1" y2="512.1" stroke="#000" stroke-width="2" stroke-dasharray="3.4 2.7"/>
<line x1="1199.4" y1="733.4" x2="1199.4" y2="811.9" stroke="#000" stroke-width="2" stroke-dasharray="3.4 2.7"/>
<polyline points="728.1,517.3 763.5,517.3 763.5,526.9 804.8,526.9" fill="none" stroke="#000" stroke-width="2"/>
<path d="M722.1,517.3 L735.7,510.7 L731.3,517.3 L735.7,524.1 Z" fill="#000" stroke="#000" stroke-width="0.6" stroke-linejoin="round"/>
<polyline points="1117.6,565.3 1199.6,565.3 1199.6,585.1 1274.4,585.1" fill="none" stroke="#000" stroke-width="2"/>
<path d="M1280.4,585.1 L1266.8,578.5 L1271.2,585.1 L1266.8,591.9 Z" fill="#000" stroke="#000" stroke-width="0.6" stroke-linejoin="round"/>
<polyline points="715.5,734.1 750.4,734.1 750.4,743.6 793.4,743.6" fill="none" stroke="#000" stroke-width="2"/>
<path d="M709.5,734.1 L723.1,727.5 L718.7,734.1 L723.1,740.9 Z" fill="#000" stroke="#000" stroke-width="0.6" stroke-linejoin="round"/>
<polyline points="1117.8,834.4 1199.3,834.4 1199.3,857.7 1273.4,857.7" fill="none" stroke="#000" stroke-width="2"/>
<path d="M1279.4,857.7 L1265.8,851.1 L1270.2,857.7 L1265.8,864.5 Z" fill="#000" stroke="#000" stroke-width="0.6" stroke-linejoin="round"/>
<line x1="707.9" y1="412" x2="707.9" y2="950.8" stroke="#000" stroke-width="2" />
<line x1="1297.7" y1="412" x2="1297.7" y2="950.8" stroke="#000" stroke-width="2" />
<line x1="702" y1="412" x2="1303.1" y2="412" stroke="#000" stroke-width="3" />
<line x1="706.9" y1="680.6" x2="1298.7" y2="680.6" stroke="#000" stroke-width="3.4" />
<line x1="706.9" y1="949.8" x2="1298.7" y2="949.8" stroke="#000" stroke-width="2" />
<line x1="707.9" y1="461.5" x2="719.6" y2="461.5" stroke="#000" stroke-width="2" />
<line x1="707.9" y1="526.1" x2="719.6" y2="526.1" stroke="#000" stroke-width="2" />
<line x1="707.9" y1="590.4" x2="719.6" y2="590.4" stroke="#000" stroke-width="2" />
<line x1="707.9" y1="654.6" x2="719.6" y2="654.6" stroke="#000" stroke-width="2" />
<line x1="707.9" y1="732.3" x2="719.6" y2="732.3" stroke="#000" stroke-width="2" />
<line x1="707.9" y1="796.5" x2="719.6" y2="796.5" stroke="#000" stroke-width="2" />
<line x1="707.9" y1="860.6" x2="719.6" y2="860.6" stroke="#000" stroke-width="2" />
<line x1="707.9" y1="924.9" x2="719.6" y2="924.9" stroke="#000" stroke-width="2" />
<line x1="1286" y1="416.4" x2="1297.7" y2="416.4" stroke="#000" stroke-width="2" />
<line x1="1286" y1="503.9" x2="1297.7" y2="503.9" stroke="#000" stroke-width="2" />
<line x1="1286" y1="591.5" x2="1297.7" y2="591.5" stroke="#000" stroke-width="2" />
<line x1="1286" y1="686.9" x2="1297.7" y2="686.9" stroke="#000" stroke-width="2" />
<line x1="1286" y1="774" x2="1297.7" y2="774" stroke="#000" stroke-width="2" />
<line x1="1286" y1="861.2" x2="1297.7" y2="861.2" stroke="#000" stroke-width="2" />
<text x="750.85" y="463.7" font-family='"Liberation Sans", sans-serif' font-size="40" font-weight="bold" fill="#000" stroke="#000" stroke-width="0" >d</text>
<text class="ls" x="738.4" y="635.8" font-family='"Liberation Sans", sans-serif' font-size="31.4" fill="#000" stroke="#000" stroke-width="0.45" >100 nm</text>
<text class="ls" x="737.85" y="905.8" font-family='"Liberation Sans", sans-serif' font-size="31.4" fill="#000" stroke="#000" stroke-width="0.45" >30 nm</text>
<text class="ls" x="1189.15" y="541.7" font-family='"Liberation Sans", sans-serif' font-size="32" fill="#000" stroke="#000" stroke-width="0.45" >T</text>
<text class="ls" x="1208.15" y="549.2" font-family='"Liberation Sans", sans-serif' font-size="22" fill="#000" stroke="#000" stroke-width="0.45" >N</text>
<text class="ls" x="1190.15" y="732.6" font-family='"Liberation Sans", sans-serif' font-size="31.5" fill="#000" stroke="#000" stroke-width="0.45" >T</text>
<text class="ls" x="1209.8" y="730.3" font-family='"Liberation Sans", sans-serif' font-size="26" fill="#000" stroke="#000" stroke-width="0.45" >*</text>
<text class="ls" x="645.4" y="478.3" font-family='"Liberation Sans", sans-serif' font-size="31.5" fill="#000" stroke="#000" stroke-width="0.45">10</text>
<text class="ls" x="680" y="457.2" font-family='"Liberation Sans", sans-serif' font-size="22.5" fill="#000" stroke="#000" stroke-width="0.45" >1</text>
<text class="ls" x="644.4" y="542.7" font-family='"Liberation Sans", sans-serif' font-size="31.5" fill="#000" stroke="#000" stroke-width="0.45">10</text>
<text class="ls" x="679.75" y="521.6" font-family='"Liberation Sans", sans-serif' font-size="22.5" fill="#000" stroke="#000" stroke-width="0.45" >0</text>
<text class="ls" x="637.15" y="606.8" font-family='"Liberation Sans", sans-serif' font-size="31.5" fill="#000" stroke="#000" stroke-width="0.45">10</text>
<text class="ls" x="672.5" y="585.7" font-family='"Liberation Sans", sans-serif' font-size="22.5" fill="#000" stroke="#000" stroke-width="0.45" >-1</text>
<text class="ls" x="637.15" y="671" font-family='"Liberation Sans", sans-serif' font-size="31.5" fill="#000" stroke="#000" stroke-width="0.45">10</text>
<text class="ls" x="672.5" y="649.9" font-family='"Liberation Sans", sans-serif' font-size="22.5" fill="#000" stroke="#000" stroke-width="0.45" >-2</text>
<text class="ls" x="645.4" y="748.3" font-family='"Liberation Sans", sans-serif' font-size="31.5" fill="#000" stroke="#000" stroke-width="0.45">10</text>
<text class="ls" x="680" y="727.2" font-family='"Liberation Sans", sans-serif' font-size="22.5" fill="#000" stroke="#000" stroke-width="0.45" >1</text>
<text class="ls" x="644.4" y="812.4" font-family='"Liberation Sans", sans-serif' font-size="31.5" fill="#000" stroke="#000" stroke-width="0.45">10</text>
<text class="ls" x="679.75" y="791.3" font-family='"Liberation Sans", sans-serif' font-size="22.5" fill="#000" stroke="#000" stroke-width="0.45" >0</text>
<text class="ls" x="637.15" y="876.4" font-family='"Liberation Sans", sans-serif' font-size="31.5" fill="#000" stroke="#000" stroke-width="0.45">10</text>
<text class="ls" x="672.5" y="855.3" font-family='"Liberation Sans", sans-serif' font-size="22.5" fill="#000" stroke="#000" stroke-width="0.45" >-1</text>
<text class="ls" x="637.15" y="940.9" font-family='"Liberation Sans", sans-serif' font-size="31.5" fill="#000" stroke="#000" stroke-width="0.45">10</text>
<text class="ls" x="672.5" y="919.8" font-family='"Liberation Sans", sans-serif' font-size="22.5" fill="#000" stroke="#000" stroke-width="0.45" >-2</text>
<text class="ls" x="706.94" y="973" font-family='"Liberation Sans", sans-serif' font-size="22.5" fill="#000" stroke="#000" stroke-width="0.45">2</text>
<text class="ls" x="787.2" y="973" font-family='"Liberation Sans", sans-serif' font-size="22.5" fill="#000" stroke="#000" stroke-width="0.45">4</text>
<text class="ls" x="833.76" y="973" font-family='"Liberation Sans", sans-serif' font-size="22.5" fill="#000" stroke="#000" stroke-width="0.45">6</text>
<text class="ls" x="867.09" y="973" font-family='"Liberation Sans", sans-serif' font-size="22.5" fill="#000" stroke="#000" stroke-width="0.45">8</text>
<text class="ls" x="972.74" y="973" font-family='"Liberation Sans", sans-serif' font-size="22.5" fill="#000" stroke="#000" stroke-width="0.45">2</text>
<text class="ls" x="1053" y="973" font-family='"Liberation Sans", sans-serif' font-size="22.5" fill="#000" stroke="#000" stroke-width="0.45">4</text>
<text class="ls" x="1099.56" y="973" font-family='"Liberation Sans", sans-serif' font-size="22.5" fill="#000" stroke="#000" stroke-width="0.45">6</text>
<text class="ls" x="1132.89" y="973" font-family='"Liberation Sans", sans-serif' font-size="22.5" fill="#000" stroke="#000" stroke-width="0.45">8</text>
<text class="ls" x="1238.54" y="973" font-family='"Liberation Sans", sans-serif' font-size="22.5" fill="#000" stroke="#000" stroke-width="0.45">2</text>
<text class="ls" x="881.38" y="1001.4" font-family='"Liberation Sans", sans-serif' font-size="31.5" fill="#000" stroke="#000" stroke-width="0.45">10</text>
<text class="ls" x="1138.62" y="1001.1" font-family='"Liberation Sans", sans-serif' font-size="31.5" fill="#000" stroke="#000" stroke-width="0.45">100</text>
<text class="ls" x="968.15" y="1023.9" font-family='"Liberation Sans", sans-serif' font-size="32.2" fill="#000" stroke="#000" stroke-width="0.45" >T (K)</text>
<text class="ls" x="0" y="0" transform="translate(611.1,713.05) rotate(-90)" font-family='"Liberation Sans", sans-serif' font-size="37" fill="#000" stroke="#000" stroke-width="0.45">ρ (Ω·cm)</text>
<text x="0" y="0" transform="translate(1320.1,551.35) rotate(90)" font-family='"Liberation Serif", serif' font-size="39" font-style="italic" fill="#000" stroke="#000" stroke-width="0.45">d</text>
<text x="0" y="0" transform="translate(1320.1,573.45) rotate(90)" font-family='"Liberation Serif", serif' font-size="39" fill="#000" stroke="#000" stroke-width="0.45">(</text>
<text x="0" y="0" transform="translate(1320.1,585.85) rotate(90)" font-family='"Liberation Serif", serif' font-size="39" fill="#000" stroke="#000" stroke-width="0.45">l</text>
<text x="0" y="0" transform="translate(1320.1,595.1) rotate(90)" font-family='"Liberation Serif", serif' font-size="39" fill="#000" stroke="#000" stroke-width="0.45">o</text>
<text x="0" y="0" transform="translate(1320.1,613.75) rotate(90)" font-family='"Liberation Serif", serif' font-size="39" fill="#000" stroke="#000" stroke-width="0.45">g</text>
<text x="0" y="0" transform="translate(1320.1,640.5) rotate(90)" font-family='"Liberation Serif", serif' font-size="39" font-style="italic" fill="#000" stroke="#000" stroke-width="0.45">ρ</text>
<text x="0" y="0" transform="translate(1320.1,658.55) rotate(90)" font-family='"Liberation Serif", serif' font-size="39" fill="#000" stroke="#000" stroke-width="0.45">)</text>
<text x="0" y="0" transform="translate(1320.1,674.45) rotate(90)" font-family='"Liberation Serif", serif' font-size="39" font-style="italic" fill="#000" stroke="#000" stroke-width="0.45">/</text>
<text x="0" y="0" transform="translate(1320.1,686.55) rotate(90)" font-family='"Liberation Serif", serif' font-size="39" font-style="italic" fill="#000" stroke="#000" stroke-width="0.45">d</text>
<text x="0" y="0" transform="translate(1320.1,707.45) rotate(90)" font-family='"Liberation Serif", serif' font-size="39" fill="#000" stroke="#000" stroke-width="0.45">(</text>
<text x="0" y="0" transform="translate(1320.1,720.8) rotate(90)" font-family='"Liberation Serif", serif' font-size="39" fill="#000" stroke="#000" stroke-width="0.45">1</text>
<text x="0" y="0" transform="translate(1320.1,742.45) rotate(90)" font-family='"Liberation Serif", serif' font-size="39" font-style="italic" fill="#000" stroke="#000" stroke-width="0.45">/</text>
<text x="0" y="0" transform="translate(1320.1,759.5) rotate(90)" font-family='"Liberation Serif", serif' font-size="39" font-style="italic" fill="#000" stroke="#000" stroke-width="0.45">T</text>
<text x="0" y="0" transform="translate(1320.1,781.55) rotate(90)" font-family='"Liberation Serif", serif' font-size="39" fill="#000" stroke="#000" stroke-width="0.45">)</text>
<g><rect x="439.93" y="136.73" width="6.1" height="5.57" fill="#fff"/><rect x="449.65" y="136.73" width="5.84" height="5.57" fill="#fff"/></g>
<g><rect x="441.93" y="606.43" width="6.1" height="5.57" fill="#fff"/><rect x="451.65" y="606.43" width="5.84" height="5.57" fill="#fff"/></g>
<g><rect x="84.96" y="160.3" width="6.17" height="5.6" fill="#fff"/><rect x="94.78" y="160.3" width="5.91" height="5.6" fill="#fff"/></g>
<g><rect x="87.38" y="977.52" width="6.14" height="5.58" fill="#fff"/><rect x="97.15" y="977.52" width="5.88" height="5.58" fill="#fff"/></g>
<g><rect x="102.88" y="977.52" width="6.14" height="5.58" fill="#fff"/><rect x="112.65" y="977.52" width="5.88" height="5.58" fill="#fff"/></g>
<g><rect x="291.82" y="977.52" width="6.13" height="5.58" fill="#fff"/><rect x="301.59" y="977.52" width="5.88" height="5.58" fill="#fff"/></g>
<g><rect x="307.32" y="977.52" width="6.13" height="5.58" fill="#fff"/><rect x="317.09" y="977.52" width="5.88" height="5.58" fill="#fff"/></g>
<g><rect x="495.95" y="977.52" width="6.13" height="5.58" fill="#fff"/><rect x="505.72" y="977.52" width="5.88" height="5.58" fill="#fff"/></g>
<g><rect x="511.45" y="977.52" width="6.14" height="5.58" fill="#fff"/><rect x="521.22" y="977.52" width="5.88" height="5.58" fill="#fff"/></g>
<g transform="translate(26.8,401.8) rotate(-90)"><rect x="66.37" y="-3.8" width="6.17" height="5.6" fill="#fff"/><rect x="76.2" y="-3.8" width="5.91" height="5.6" fill="#fff"/></g>
<g transform="translate(26.8,871.8) rotate(-90)"><rect x="66.37" y="-3.8" width="6.17" height="5.6" fill="#fff"/><rect x="76.2" y="-3.8" width="5.91" height="5.6" fill="#fff"/></g>
<g><rect x="789.58" y="165.96" width="6.03" height="5.54" fill="#fff"/><rect x="799.19" y="165.96" width="5.78" height="5.54" fill="#fff"/></g>
<g><rect x="804.8" y="165.96" width="6.03" height="5.54" fill="#fff"/><rect x="814.41" y="165.96" width="5.78" height="5.54" fill="#fff"/></g>
<g><rect x="848.72" y="165.96" width="6.03" height="5.54" fill="#fff"/><rect x="858.33" y="165.96" width="5.78" height="5.54" fill="#fff"/></g>
<g><rect x="772.53" y="252.23" width="6.1" height="5.57" fill="#fff"/><rect x="782.25" y="252.23" width="5.84" height="5.57" fill="#fff"/></g>
<g><rect x="739.89" y="632.08" width="6" height="5.52" fill="#fff"/><rect x="749.44" y="632.08" width="5.74" height="5.52" fill="#fff"/></g>
<g><rect x="646.89" y="474.57" width="6.01" height="5.53" fill="#fff"/><rect x="656.48" y="474.57" width="5.76" height="5.53" fill="#fff"/></g>
<g><rect x="680.81" y="454.14" width="4.44" height="4.87" fill="#fff"/><rect x="688.03" y="454.14" width="4.26" height="4.87" fill="#fff"/></g>
<g><rect x="645.89" y="538.97" width="6.01" height="5.53" fill="#fff"/><rect x="655.48" y="538.97" width="5.76" height="5.53" fill="#fff"/></g>
<g><rect x="638.64" y="603.07" width="6.01" height="5.53" fill="#fff"/><rect x="648.23" y="603.07" width="5.76" height="5.53" fill="#fff"/></g>
<g><rect x="680.79" y="582.64" width="4.44" height="4.86" fill="#fff"/><rect x="688.01" y="582.64" width="4.26" height="4.86" fill="#fff"/></g>
<g><rect x="638.64" y="667.27" width="6.01" height="5.53" fill="#fff"/><rect x="648.23" y="667.27" width="5.76" height="5.53" fill="#fff"/></g>
<g><rect x="646.89" y="744.57" width="6.01" height="5.53" fill="#fff"/><rect x="656.48" y="744.57" width="5.76" height="5.53" fill="#fff"/></g>
<g><rect x="680.81" y="724.14" width="4.44" height="4.86" fill="#fff"/><rect x="688.03" y="724.14" width="4.26" height="4.86" fill="#fff"/></g>
<g><rect x="645.89" y="808.67" width="6.01" height="5.53" fill="#fff"/><rect x="655.48" y="808.67" width="5.76" height="5.53" fill="#fff"/></g>
<g><rect x="638.64" y="872.67" width="6.01" height="5.53" fill="#fff"/><rect x="648.23" y="872.67" width="5.76" height="5.53" fill="#fff"/></g>
<g><rect x="680.79" y="852.23" width="4.44" height="4.86" fill="#fff"/><rect x="688.01" y="852.23" width="4.26" height="4.86" fill="#fff"/></g>
<g><rect x="638.64" y="937.17" width="6.01" height="5.53" fill="#fff"/><rect x="648.23" y="937.17" width="5.76" height="5.53" fill="#fff"/></g>
<g><rect x="882.87" y="997.67" width="6.01" height="5.53" fill="#fff"/><rect x="892.46" y="997.67" width="5.76" height="5.53" fill="#fff"/></g>
<g><rect x="1140.11" y="997.37" width="6.01" height="5.53" fill="#fff"/><rect x="1149.7" y="997.37" width="5.76" height="5.53" fill="#fff"/></g>
</svg>
</body></html>
